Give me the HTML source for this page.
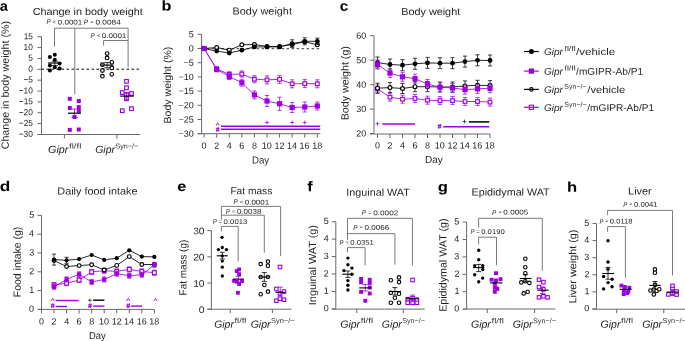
<!DOCTYPE html>
<html><head><meta charset="utf-8"><style>
html,body{margin:0;padding:0;background:#fff;}
svg{display:block;will-change:transform;}
text{font-family:"Liberation Sans",sans-serif;}
</style></head><body>
<svg xmlns="http://www.w3.org/2000/svg" width="685" height="341" viewBox="0 0 685 341">
<rect width="685" height="341" fill="#fff"/>
<text x="-0.24" y="10.80" transform="rotate(0.03 -0.24 10.80)" font-size="14" font-weight="bold" fill="#000" textLength="8.11" lengthAdjust="spacingAndGlyphs" >a</text>
<text x="161.64" y="10.60" transform="rotate(0.03 161.64 10.60)" font-size="14" font-weight="bold" fill="#000" textLength="9.92" lengthAdjust="spacingAndGlyphs" >b</text>
<text x="339.68" y="10.80" transform="rotate(0.03 339.68 10.80)" font-size="14" font-weight="bold" fill="#000" textLength="8.60" lengthAdjust="spacingAndGlyphs" >c</text>
<text x="-0.39" y="191.00" transform="rotate(0.03 -0.39 191.00)" font-size="14" font-weight="bold" fill="#000" textLength="10.52" lengthAdjust="spacingAndGlyphs" >d</text>
<text x="177.25" y="191.10" transform="rotate(0.03 177.25 191.10)" font-size="14" font-weight="bold" fill="#000" textLength="9.04" lengthAdjust="spacingAndGlyphs" >e</text>
<text x="307.26" y="191.20" transform="rotate(0.03 307.26 191.20)" font-size="14" font-weight="bold" fill="#000" textLength="5.41" lengthAdjust="spacingAndGlyphs" >f</text>
<text x="437.73" y="191.40" transform="rotate(0.03 437.73 191.40)" font-size="14" font-weight="bold" fill="#000" textLength="10.16" lengthAdjust="spacingAndGlyphs" >g</text>
<text x="567.03" y="191.70" transform="rotate(0.03 567.03 191.70)" font-size="14" font-weight="bold" fill="#000" textLength="10.18" lengthAdjust="spacingAndGlyphs" >h</text>
<text x="32.66" y="14.90" transform="rotate(0.03 32.66 14.90)" font-size="10.2" fill="#1e1e1e" textLength="110.04" lengthAdjust="spacingAndGlyphs" >Change in body weight</text>
<text x="46.41" y="24.50" transform="rotate(0.03 46.41 24.50)" font-size="6.9" font-style="italic" fill="#1e1e1e" textLength="4.20" lengthAdjust="spacingAndGlyphs" >P</text>
<text x="52.59" y="24.10" transform="rotate(0.03 52.59 24.10)" font-size="5.5200000000000005" fill="#1e1e1e" textLength="3.58" lengthAdjust="spacingAndGlyphs" >&lt;</text>
<text x="57.68" y="24.50" transform="rotate(0.03 57.68 24.50)" font-size="6.9" fill="#1e1e1e" textLength="24.68" lengthAdjust="spacingAndGlyphs" >0.0001</text>
<text x="83.80" y="24.50" transform="rotate(0.03 83.80 24.50)" font-size="6.9" font-style="italic" fill="#1e1e1e" textLength="4.34" lengthAdjust="spacingAndGlyphs" >P</text>
<text x="90.37" y="23.60" transform="rotate(0.03 90.37 23.60)" font-size="5.175000000000001" fill="#1e1e1e" textLength="3.35" lengthAdjust="spacingAndGlyphs" >=</text>
<text x="95.45" y="24.50" transform="rotate(0.03 95.45 24.50)" font-size="6.9" fill="#1e1e1e" textLength="25.38" lengthAdjust="spacingAndGlyphs" >0.0084</text>
<text x="90.51" y="37.90" transform="rotate(0.03 90.51 37.90)" font-size="6.9" font-style="italic" fill="#1e1e1e" textLength="4.19" lengthAdjust="spacingAndGlyphs" >P</text>
<text x="96.68" y="37.50" transform="rotate(0.03 96.68 37.50)" font-size="5.5200000000000005" fill="#1e1e1e" textLength="3.57" lengthAdjust="spacingAndGlyphs" >&lt;</text>
<text x="101.74" y="37.90" transform="rotate(0.03 101.74 37.90)" font-size="6.9" fill="#1e1e1e" textLength="24.61" lengthAdjust="spacingAndGlyphs" >0.0001</text>
<text transform="translate(8.70,149.33) rotate(-89.97)" x="0" y="0" font-size="10.4" fill="#1e1e1e" textLength="128.40" lengthAdjust="spacingAndGlyphs">Change in body weight (%)</text>
<line x1="41.50" y1="36.70" x2="41.50" y2="134.49" stroke="#686868" stroke-width="1" />
<line x1="37.50" y1="36.70" x2="41.50" y2="36.70" stroke="#686868" stroke-width="1" />
<text x="23.65" y="39.16" transform="rotate(0.03 23.65 39.16)" font-size="8.8" fill="#1e1e1e" textLength="9.30" lengthAdjust="spacingAndGlyphs">15</text>
<line x1="37.50" y1="47.57" x2="41.50" y2="47.57" stroke="#686868" stroke-width="1" />
<text x="23.61" y="50.02" transform="rotate(0.03 23.61 50.02)" font-size="8.8" fill="#1e1e1e" textLength="9.30" lengthAdjust="spacingAndGlyphs">10</text>
<line x1="37.50" y1="58.43" x2="41.50" y2="58.43" stroke="#686868" stroke-width="1" />
<text x="28.29" y="60.89" transform="rotate(0.03 28.29 60.89)" font-size="8.8" fill="#1e1e1e" textLength="4.65" lengthAdjust="spacingAndGlyphs">5</text>
<line x1="37.50" y1="69.30" x2="41.50" y2="69.30" stroke="#686868" stroke-width="1" />
<text x="28.25" y="71.75" transform="rotate(0.03 28.25 71.75)" font-size="8.8" fill="#1e1e1e" textLength="4.65" lengthAdjust="spacingAndGlyphs">0</text>
<line x1="37.50" y1="80.16" x2="41.50" y2="80.16" stroke="#686868" stroke-width="1" />
<text x="23.40" y="82.62" transform="rotate(0.03 23.40 82.62)" font-size="8.8" fill="#1e1e1e" textLength="9.53" lengthAdjust="spacingAndGlyphs">−5</text>
<line x1="37.50" y1="91.03" x2="41.50" y2="91.03" stroke="#686868" stroke-width="1" />
<text x="18.72" y="93.48" transform="rotate(0.03 18.72 93.48)" font-size="8.8" fill="#1e1e1e" textLength="14.18" lengthAdjust="spacingAndGlyphs">−10</text>
<line x1="37.50" y1="101.89" x2="41.50" y2="101.89" stroke="#686868" stroke-width="1" />
<text x="18.76" y="104.35" transform="rotate(0.03 18.76 104.35)" font-size="8.8" fill="#1e1e1e" textLength="14.18" lengthAdjust="spacingAndGlyphs">−15</text>
<line x1="37.50" y1="112.76" x2="41.50" y2="112.76" stroke="#686868" stroke-width="1" />
<text x="18.72" y="115.21" transform="rotate(0.03 18.72 115.21)" font-size="8.8" fill="#1e1e1e" textLength="14.18" lengthAdjust="spacingAndGlyphs">−20</text>
<line x1="37.50" y1="123.62" x2="41.50" y2="123.62" stroke="#686868" stroke-width="1" />
<text x="18.76" y="126.08" transform="rotate(0.03 18.76 126.08)" font-size="8.8" fill="#1e1e1e" textLength="14.18" lengthAdjust="spacingAndGlyphs">−25</text>
<line x1="37.50" y1="134.49" x2="41.50" y2="134.49" stroke="#686868" stroke-width="1" />
<text x="18.72" y="136.94" transform="rotate(0.03 18.72 136.94)" font-size="8.8" fill="#1e1e1e" textLength="14.18" lengthAdjust="spacingAndGlyphs">−30</text>
<line x1="37.50" y1="134.50" x2="140.20" y2="134.50" stroke="#686868" stroke-width="1" />
<line x1="64.40" y1="134.50" x2="64.40" y2="138.50" stroke="#686868" stroke-width="1" />
<line x1="116.90" y1="134.50" x2="116.90" y2="138.50" stroke="#686868" stroke-width="1" />
<line x1="54.50" y1="28.20" x2="128.10" y2="28.20" stroke="#7a7a7a" stroke-width="1" />
<line x1="54.50" y1="28.20" x2="54.50" y2="46.70" stroke="#7a7a7a" stroke-width="1" />
<line x1="74.80" y1="28.20" x2="74.80" y2="94.00" stroke="#7a7a7a" stroke-width="1" />
<line x1="128.10" y1="28.20" x2="128.10" y2="67.30" stroke="#7a7a7a" stroke-width="1" />
<line x1="103.60" y1="40.50" x2="128.10" y2="40.50" stroke="#7a7a7a" stroke-width="1" />
<line x1="103.60" y1="40.50" x2="103.60" y2="45.50" stroke="#7a7a7a" stroke-width="1" />
<line x1="41.50" y1="69.20" x2="139.00" y2="69.20" stroke="#000" stroke-width="1" stroke-dasharray="2.5,2.5"/>
<text x="48.06" y="153.10" transform="rotate(0.03 48.06 153.10)" font-size="10.5" font-style="italic" fill="#1e1e1e" textLength="20.31" lengthAdjust="spacingAndGlyphs" >Gipr</text>
<text x="68.95" y="148.50" transform="rotate(0.03 68.95 148.50)" font-size="7.2" fill="#333" textLength="12.51" lengthAdjust="spacingAndGlyphs" >fl/fl</text>
<text x="95.18" y="153.10" transform="rotate(0.03 95.18 153.10)" font-size="10.5" font-style="italic" fill="#1e1e1e" textLength="19.80" lengthAdjust="spacingAndGlyphs" >Gipr</text>
<text x="115.38" y="148.50" transform="rotate(0.03 115.38 148.50)" font-size="7.2" fill="#333" textLength="22.78" lengthAdjust="spacingAndGlyphs" >Syn−/−</text>
<circle cx="54.80" cy="54.80" r="2.00" fill="#000"/>
<circle cx="49.90" cy="57.00" r="2.00" fill="#000"/>
<circle cx="54.80" cy="59.70" r="2.00" fill="#000"/>
<circle cx="59.60" cy="63.60" r="2.00" fill="#000"/>
<circle cx="49.90" cy="65.40" r="2.00" fill="#000"/>
<circle cx="54.80" cy="67.20" r="2.00" fill="#000"/>
<circle cx="59.60" cy="68.40" r="2.00" fill="#000"/>
<circle cx="49.90" cy="70.40" r="2.00" fill="#000"/>
<line x1="54.80" y1="61.20" x2="54.80" y2="65.60" stroke="#000" stroke-width="0.8" />
<line x1="51.80" y1="61.20" x2="57.80" y2="61.20" stroke="#000" stroke-width="0.8" />
<line x1="51.80" y1="65.60" x2="57.80" y2="65.60" stroke="#000" stroke-width="0.8" />
<line x1="48.00" y1="63.00" x2="61.30" y2="63.00" stroke="#000" stroke-width="1.2" />
<rect x="67.80" y="96.80" width="4.00" height="4.00" fill="#9e00e6"/>
<rect x="76.80" y="99.00" width="4.00" height="4.00" fill="#9e00e6"/>
<rect x="67.80" y="106.00" width="4.00" height="4.00" fill="#9e00e6"/>
<rect x="76.80" y="105.10" width="4.00" height="4.00" fill="#9e00e6"/>
<rect x="76.80" y="108.80" width="4.00" height="4.00" fill="#9e00e6"/>
<rect x="72.50" y="115.00" width="4.00" height="4.00" fill="#9e00e6"/>
<rect x="67.80" y="127.90" width="4.00" height="4.00" fill="#9e00e6"/>
<rect x="76.80" y="127.50" width="4.00" height="4.00" fill="#9e00e6"/>
<line x1="74.50" y1="109.00" x2="74.50" y2="117.50" stroke="#9e00e6" stroke-width="0.8" />
<line x1="71.50" y1="109.00" x2="77.50" y2="109.00" stroke="#9e00e6" stroke-width="0.8" />
<line x1="71.50" y1="117.50" x2="77.50" y2="117.50" stroke="#9e00e6" stroke-width="0.8" />
<line x1="68.00" y1="113.20" x2="80.90" y2="113.20" stroke="#000" stroke-width="1.2" />
<circle cx="107.10" cy="53.60" r="1.82" fill="#fff" stroke="#000" stroke-width="1.15"/>
<circle cx="107.10" cy="57.90" r="1.82" fill="#fff" stroke="#000" stroke-width="1.15"/>
<circle cx="111.80" cy="62.30" r="1.82" fill="#fff" stroke="#000" stroke-width="1.15"/>
<circle cx="102.40" cy="64.70" r="1.82" fill="#fff" stroke="#000" stroke-width="1.15"/>
<circle cx="111.80" cy="67.90" r="1.82" fill="#fff" stroke="#000" stroke-width="1.15"/>
<circle cx="102.40" cy="70.50" r="1.82" fill="#fff" stroke="#000" stroke-width="1.15"/>
<circle cx="111.80" cy="74.30" r="1.82" fill="#fff" stroke="#000" stroke-width="1.15"/>
<circle cx="102.40" cy="76.20" r="1.82" fill="#fff" stroke="#000" stroke-width="1.15"/>
<line x1="107.10" y1="62.60" x2="107.10" y2="67.80" stroke="#000" stroke-width="0.8" />
<line x1="104.10" y1="62.60" x2="110.10" y2="62.60" stroke="#000" stroke-width="0.8" />
<line x1="104.10" y1="67.80" x2="110.10" y2="67.80" stroke="#000" stroke-width="0.8" />
<line x1="100.70" y1="65.10" x2="113.40" y2="65.10" stroke="#000" stroke-width="1.2" />
<rect x="124.67" y="79.47" width="3.65" height="3.65" fill="#fff" stroke="#9e00e6" stroke-width="1.15"/>
<rect x="124.67" y="85.97" width="3.65" height="3.65" fill="#fff" stroke="#9e00e6" stroke-width="1.15"/>
<rect x="120.47" y="90.77" width="3.65" height="3.65" fill="#fff" stroke="#9e00e6" stroke-width="1.15"/>
<rect x="129.67" y="91.67" width="3.65" height="3.65" fill="#fff" stroke="#9e00e6" stroke-width="1.15"/>
<rect x="124.67" y="92.77" width="3.65" height="3.65" fill="#fff" stroke="#9e00e6" stroke-width="1.15"/>
<rect x="124.67" y="96.97" width="3.65" height="3.65" fill="#fff" stroke="#9e00e6" stroke-width="1.15"/>
<rect x="120.47" y="108.88" width="3.65" height="3.65" fill="#fff" stroke="#9e00e6" stroke-width="1.15"/>
<rect x="129.67" y="106.88" width="3.65" height="3.65" fill="#fff" stroke="#9e00e6" stroke-width="1.15"/>
<line x1="126.50" y1="92.80" x2="126.50" y2="99.50" stroke="#9e00e6" stroke-width="0.8" />
<line x1="124.00" y1="92.80" x2="129.00" y2="92.80" stroke="#9e00e6" stroke-width="0.8" />
<line x1="124.00" y1="99.50" x2="129.00" y2="99.50" stroke="#9e00e6" stroke-width="0.8" />
<line x1="120.30" y1="96.10" x2="133.80" y2="96.10" stroke="#000" stroke-width="1.2" />
<text x="232.53" y="14.60" transform="rotate(0.03 232.53 14.60)" font-size="10.2" fill="#1e1e1e" textLength="59.46" lengthAdjust="spacingAndGlyphs" >Body weight</text>
<text transform="translate(171.00,123.44) rotate(-89.97)" x="0" y="0" font-size="10.4" fill="#1e1e1e" textLength="76.79" lengthAdjust="spacingAndGlyphs">Body weight (%)</text>
<line x1="201.60" y1="34.30" x2="201.60" y2="133.70" stroke="#686868" stroke-width="1" />
<line x1="197.60" y1="34.30" x2="201.60" y2="34.30" stroke="#686868" stroke-width="1" />
<text x="188.76" y="37.32" transform="rotate(0.03 188.76 37.32)" font-size="9.0" fill="#1e1e1e" textLength="5.01" lengthAdjust="spacingAndGlyphs">5</text>
<line x1="197.60" y1="48.50" x2="201.60" y2="48.50" stroke="#686868" stroke-width="1" />
<text x="188.72" y="51.52" transform="rotate(0.03 188.72 51.52)" font-size="9.0" fill="#1e1e1e" textLength="5.01" lengthAdjust="spacingAndGlyphs">0</text>
<line x1="197.60" y1="62.70" x2="201.60" y2="62.70" stroke="#686868" stroke-width="1" />
<text x="183.50" y="65.72" transform="rotate(0.03 183.50 65.72)" font-size="9.0" fill="#1e1e1e" textLength="10.26" lengthAdjust="spacingAndGlyphs">−5</text>
<line x1="197.60" y1="76.90" x2="201.60" y2="76.90" stroke="#686868" stroke-width="1" />
<text x="178.46" y="79.92" transform="rotate(0.03 178.46 79.92)" font-size="9.0" fill="#1e1e1e" textLength="15.27" lengthAdjust="spacingAndGlyphs">−10</text>
<line x1="197.60" y1="91.10" x2="201.60" y2="91.10" stroke="#686868" stroke-width="1" />
<text x="178.51" y="94.12" transform="rotate(0.03 178.51 94.12)" font-size="9.0" fill="#1e1e1e" textLength="15.27" lengthAdjust="spacingAndGlyphs">−15</text>
<line x1="197.60" y1="105.30" x2="201.60" y2="105.30" stroke="#686868" stroke-width="1" />
<text x="178.46" y="108.32" transform="rotate(0.03 178.46 108.32)" font-size="9.0" fill="#1e1e1e" textLength="15.27" lengthAdjust="spacingAndGlyphs">−20</text>
<line x1="197.60" y1="119.50" x2="201.60" y2="119.50" stroke="#686868" stroke-width="1" />
<text x="178.51" y="122.52" transform="rotate(0.03 178.51 122.52)" font-size="9.0" fill="#1e1e1e" textLength="15.27" lengthAdjust="spacingAndGlyphs">−25</text>
<line x1="197.60" y1="133.70" x2="201.60" y2="133.70" stroke="#686868" stroke-width="1" />
<text x="178.46" y="136.72" transform="rotate(0.03 178.46 136.72)" font-size="9.0" fill="#1e1e1e" textLength="15.27" lengthAdjust="spacingAndGlyphs">−30</text>
<line x1="197.60" y1="133.70" x2="320.30" y2="133.70" stroke="#686868" stroke-width="1" />
<line x1="204.10" y1="133.70" x2="204.10" y2="137.70" stroke="#686868" stroke-width="1" />
<text x="201.58" y="148.82" transform="rotate(0.03 201.58 148.82)" font-size="9.0" fill="#1e1e1e" textLength="5.01" lengthAdjust="spacingAndGlyphs">0</text>
<line x1="216.68" y1="133.70" x2="216.68" y2="137.70" stroke="#686868" stroke-width="1" />
<text x="214.18" y="148.82" transform="rotate(0.03 214.18 148.82)" font-size="9.0" fill="#1e1e1e" textLength="5.01" lengthAdjust="spacingAndGlyphs">2</text>
<line x1="229.26" y1="133.70" x2="229.26" y2="137.70" stroke="#686868" stroke-width="1" />
<text x="226.81" y="148.82" transform="rotate(0.03 226.81 148.82)" font-size="9.0" fill="#1e1e1e" textLength="5.01" lengthAdjust="spacingAndGlyphs">4</text>
<line x1="241.84" y1="133.70" x2="241.84" y2="137.70" stroke="#686868" stroke-width="1" />
<text x="239.30" y="148.82" transform="rotate(0.03 239.30 148.82)" font-size="9.0" fill="#1e1e1e" textLength="5.01" lengthAdjust="spacingAndGlyphs">6</text>
<line x1="254.42" y1="133.70" x2="254.42" y2="137.70" stroke="#686868" stroke-width="1" />
<text x="251.90" y="148.82" transform="rotate(0.03 251.90 148.82)" font-size="9.0" fill="#1e1e1e" textLength="5.01" lengthAdjust="spacingAndGlyphs">8</text>
<line x1="267.00" y1="133.70" x2="267.00" y2="137.70" stroke="#686868" stroke-width="1" />
<text x="261.82" y="148.82" transform="rotate(0.03 261.82 148.82)" font-size="9.0" fill="#1e1e1e" textLength="10.01" lengthAdjust="spacingAndGlyphs">10</text>
<line x1="279.58" y1="133.70" x2="279.58" y2="137.70" stroke="#686868" stroke-width="1" />
<text x="274.47" y="148.82" transform="rotate(0.03 274.47 148.82)" font-size="9.0" fill="#1e1e1e" textLength="10.01" lengthAdjust="spacingAndGlyphs">12</text>
<line x1="292.16" y1="133.70" x2="292.16" y2="137.70" stroke="#686868" stroke-width="1" />
<text x="286.96" y="148.82" transform="rotate(0.03 286.96 148.82)" font-size="9.0" fill="#1e1e1e" textLength="10.01" lengthAdjust="spacingAndGlyphs">14</text>
<line x1="304.74" y1="133.70" x2="304.74" y2="137.70" stroke="#686868" stroke-width="1" />
<text x="299.59" y="148.82" transform="rotate(0.03 299.59 148.82)" font-size="9.0" fill="#1e1e1e" textLength="10.01" lengthAdjust="spacingAndGlyphs">16</text>
<line x1="317.32" y1="133.70" x2="317.32" y2="137.70" stroke="#686868" stroke-width="1" />
<text x="312.17" y="148.82" transform="rotate(0.03 312.17 148.82)" font-size="9.0" fill="#1e1e1e" textLength="10.01" lengthAdjust="spacingAndGlyphs">18</text>
<text x="251.93" y="163.60" transform="rotate(0.03 251.93 163.60)" font-size="10.2" fill="#1e1e1e" textLength="17.16" lengthAdjust="spacingAndGlyphs" >Day</text>
<line x1="201.60" y1="48.70" x2="320.30" y2="48.70" stroke="#222" stroke-width="0.9" stroke-dasharray="2.5,2.5"/>
<line x1="216.68" y1="67.00" x2="216.68" y2="71.00" stroke="#9e00e6" stroke-width="0.75" />
<line x1="214.58" y1="67.00" x2="218.78" y2="67.00" stroke="#9e00e6" stroke-width="0.75" />
<line x1="214.58" y1="71.00" x2="218.78" y2="71.00" stroke="#9e00e6" stroke-width="0.75" />
<line x1="229.26" y1="71.80" x2="229.26" y2="76.80" stroke="#9e00e6" stroke-width="0.75" />
<line x1="227.16" y1="71.80" x2="231.36" y2="71.80" stroke="#9e00e6" stroke-width="0.75" />
<line x1="227.16" y1="76.80" x2="231.36" y2="76.80" stroke="#9e00e6" stroke-width="0.75" />
<line x1="241.84" y1="71.00" x2="241.84" y2="77.00" stroke="#9e00e6" stroke-width="0.75" />
<line x1="239.74" y1="71.00" x2="243.94" y2="71.00" stroke="#9e00e6" stroke-width="0.75" />
<line x1="239.74" y1="77.00" x2="243.94" y2="77.00" stroke="#9e00e6" stroke-width="0.75" />
<line x1="254.42" y1="75.70" x2="254.42" y2="82.70" stroke="#9e00e6" stroke-width="0.75" />
<line x1="252.32" y1="75.70" x2="256.52" y2="75.70" stroke="#9e00e6" stroke-width="0.75" />
<line x1="252.32" y1="82.70" x2="256.52" y2="82.70" stroke="#9e00e6" stroke-width="0.75" />
<line x1="267.00" y1="75.90" x2="267.00" y2="83.90" stroke="#9e00e6" stroke-width="0.75" />
<line x1="264.90" y1="75.90" x2="269.10" y2="75.90" stroke="#9e00e6" stroke-width="0.75" />
<line x1="264.90" y1="83.90" x2="269.10" y2="83.90" stroke="#9e00e6" stroke-width="0.75" />
<line x1="279.58" y1="75.30" x2="279.58" y2="83.30" stroke="#9e00e6" stroke-width="0.75" />
<line x1="277.48" y1="75.30" x2="281.68" y2="75.30" stroke="#9e00e6" stroke-width="0.75" />
<line x1="277.48" y1="83.30" x2="281.68" y2="83.30" stroke="#9e00e6" stroke-width="0.75" />
<line x1="292.16" y1="79.80" x2="292.16" y2="87.80" stroke="#9e00e6" stroke-width="0.75" />
<line x1="290.06" y1="79.80" x2="294.26" y2="79.80" stroke="#9e00e6" stroke-width="0.75" />
<line x1="290.06" y1="87.80" x2="294.26" y2="87.80" stroke="#9e00e6" stroke-width="0.75" />
<line x1="304.74" y1="79.60" x2="304.74" y2="87.60" stroke="#9e00e6" stroke-width="0.75" />
<line x1="302.64" y1="79.60" x2="306.84" y2="79.60" stroke="#9e00e6" stroke-width="0.75" />
<line x1="302.64" y1="87.60" x2="306.84" y2="87.60" stroke="#9e00e6" stroke-width="0.75" />
<line x1="317.32" y1="79.80" x2="317.32" y2="87.80" stroke="#9e00e6" stroke-width="0.75" />
<line x1="315.22" y1="79.80" x2="319.42" y2="79.80" stroke="#9e00e6" stroke-width="0.75" />
<line x1="315.22" y1="87.80" x2="319.42" y2="87.80" stroke="#9e00e6" stroke-width="0.75" />
<polyline points="204.10,48.50 216.68,69.00 229.26,74.30 241.84,74.00 254.42,79.20 267.00,79.90 279.58,79.30 292.16,83.80 304.74,83.60 317.32,83.80" fill="none" stroke="#9e00e6" stroke-width="0.85"/>
<rect x="202.27" y="46.68" width="3.65" height="3.65" fill="#fff" stroke="#9e00e6" stroke-width="1.15"/>
<rect x="214.85" y="67.17" width="3.65" height="3.65" fill="#fff" stroke="#9e00e6" stroke-width="1.15"/>
<rect x="227.43" y="72.47" width="3.65" height="3.65" fill="#fff" stroke="#9e00e6" stroke-width="1.15"/>
<rect x="240.01" y="72.17" width="3.65" height="3.65" fill="#fff" stroke="#9e00e6" stroke-width="1.15"/>
<rect x="252.59" y="77.38" width="3.65" height="3.65" fill="#fff" stroke="#9e00e6" stroke-width="1.15"/>
<rect x="265.18" y="78.08" width="3.65" height="3.65" fill="#fff" stroke="#9e00e6" stroke-width="1.15"/>
<rect x="277.75" y="77.47" width="3.65" height="3.65" fill="#fff" stroke="#9e00e6" stroke-width="1.15"/>
<rect x="290.33" y="81.97" width="3.65" height="3.65" fill="#fff" stroke="#9e00e6" stroke-width="1.15"/>
<rect x="302.92" y="81.77" width="3.65" height="3.65" fill="#fff" stroke="#9e00e6" stroke-width="1.15"/>
<rect x="315.50" y="81.97" width="3.65" height="3.65" fill="#fff" stroke="#9e00e6" stroke-width="1.15"/>
<polyline points="204.10,48.50 216.68,47.50 229.26,50.20 241.84,44.80 254.42,44.50 267.00,46.50 279.58,46.50 292.16,44.50 304.74,41.80 317.32,44.80" fill="none" stroke="#000" stroke-width="0.85"/>
<circle cx="204.10" cy="48.50" r="1.93" fill="#fff" stroke="#000" stroke-width="1.15"/>
<circle cx="216.68" cy="47.50" r="1.93" fill="#fff" stroke="#000" stroke-width="1.15"/>
<circle cx="229.26" cy="50.20" r="1.93" fill="#fff" stroke="#000" stroke-width="1.15"/>
<circle cx="241.84" cy="44.80" r="1.93" fill="#fff" stroke="#000" stroke-width="1.15"/>
<circle cx="254.42" cy="44.50" r="1.93" fill="#fff" stroke="#000" stroke-width="1.15"/>
<circle cx="267.00" cy="46.50" r="1.93" fill="#fff" stroke="#000" stroke-width="1.15"/>
<circle cx="279.58" cy="46.50" r="1.93" fill="#fff" stroke="#000" stroke-width="1.15"/>
<circle cx="292.16" cy="44.50" r="1.93" fill="#fff" stroke="#000" stroke-width="1.15"/>
<circle cx="304.74" cy="41.80" r="1.93" fill="#fff" stroke="#000" stroke-width="1.15"/>
<circle cx="317.32" cy="44.80" r="1.93" fill="#fff" stroke="#000" stroke-width="1.15"/>
<line x1="292.16" y1="39.80" x2="292.16" y2="47.40" stroke="#000" stroke-width="0.75" />
<line x1="290.06" y1="39.80" x2="294.26" y2="39.80" stroke="#000" stroke-width="0.75" />
<line x1="290.06" y1="47.40" x2="294.26" y2="47.40" stroke="#000" stroke-width="0.75" />
<line x1="304.74" y1="37.80" x2="304.74" y2="44.80" stroke="#000" stroke-width="0.75" />
<line x1="302.64" y1="37.80" x2="306.84" y2="37.80" stroke="#000" stroke-width="0.75" />
<line x1="302.64" y1="44.80" x2="306.84" y2="44.80" stroke="#000" stroke-width="0.75" />
<line x1="317.32" y1="38.10" x2="317.32" y2="44.50" stroke="#000" stroke-width="0.75" />
<line x1="315.22" y1="38.10" x2="319.42" y2="38.10" stroke="#000" stroke-width="0.75" />
<line x1="315.22" y1="44.50" x2="319.42" y2="44.50" stroke="#000" stroke-width="0.75" />
<polyline points="204.10,48.50 216.68,51.10 229.26,53.00 241.84,50.20 254.42,46.90 267.00,46.90 279.58,46.90 292.16,43.60 304.74,41.30 317.32,41.30" fill="none" stroke="#000" stroke-width="0.85"/>
<circle cx="204.10" cy="48.50" r="2.40" fill="#000"/>
<circle cx="216.68" cy="51.10" r="2.40" fill="#000"/>
<circle cx="229.26" cy="53.00" r="2.40" fill="#000"/>
<circle cx="241.84" cy="50.20" r="2.40" fill="#000"/>
<circle cx="254.42" cy="46.90" r="2.40" fill="#000"/>
<circle cx="267.00" cy="46.90" r="2.40" fill="#000"/>
<circle cx="279.58" cy="46.90" r="2.40" fill="#000"/>
<circle cx="292.16" cy="43.60" r="2.40" fill="#000"/>
<circle cx="304.74" cy="41.30" r="2.40" fill="#000"/>
<circle cx="317.32" cy="41.30" r="2.40" fill="#000"/>
<line x1="216.68" y1="66.90" x2="216.68" y2="71.90" stroke="#9e00e6" stroke-width="0.75" />
<line x1="214.58" y1="66.90" x2="218.78" y2="66.90" stroke="#9e00e6" stroke-width="0.75" />
<line x1="214.58" y1="71.90" x2="218.78" y2="71.90" stroke="#9e00e6" stroke-width="0.75" />
<line x1="229.26" y1="73.50" x2="229.26" y2="79.50" stroke="#9e00e6" stroke-width="0.75" />
<line x1="227.16" y1="73.50" x2="231.36" y2="73.50" stroke="#9e00e6" stroke-width="0.75" />
<line x1="227.16" y1="79.50" x2="231.36" y2="79.50" stroke="#9e00e6" stroke-width="0.75" />
<line x1="241.84" y1="79.20" x2="241.84" y2="86.20" stroke="#9e00e6" stroke-width="0.75" />
<line x1="239.74" y1="79.20" x2="243.94" y2="79.20" stroke="#9e00e6" stroke-width="0.75" />
<line x1="239.74" y1="86.20" x2="243.94" y2="86.20" stroke="#9e00e6" stroke-width="0.75" />
<line x1="254.42" y1="90.90" x2="254.42" y2="98.90" stroke="#9e00e6" stroke-width="0.75" />
<line x1="252.32" y1="90.90" x2="256.52" y2="90.90" stroke="#9e00e6" stroke-width="0.75" />
<line x1="252.32" y1="98.90" x2="256.52" y2="98.90" stroke="#9e00e6" stroke-width="0.75" />
<line x1="267.00" y1="95.50" x2="267.00" y2="106.50" stroke="#9e00e6" stroke-width="0.75" />
<line x1="264.90" y1="95.50" x2="269.10" y2="95.50" stroke="#9e00e6" stroke-width="0.75" />
<line x1="264.90" y1="106.50" x2="269.10" y2="106.50" stroke="#9e00e6" stroke-width="0.75" />
<line x1="279.58" y1="97.30" x2="279.58" y2="110.30" stroke="#9e00e6" stroke-width="0.75" />
<line x1="277.48" y1="97.30" x2="281.68" y2="97.30" stroke="#9e00e6" stroke-width="0.75" />
<line x1="277.48" y1="110.30" x2="281.68" y2="110.30" stroke="#9e00e6" stroke-width="0.75" />
<line x1="292.16" y1="102.50" x2="292.16" y2="112.50" stroke="#9e00e6" stroke-width="0.75" />
<line x1="290.06" y1="102.50" x2="294.26" y2="102.50" stroke="#9e00e6" stroke-width="0.75" />
<line x1="290.06" y1="112.50" x2="294.26" y2="112.50" stroke="#9e00e6" stroke-width="0.75" />
<line x1="304.74" y1="102.00" x2="304.74" y2="112.00" stroke="#9e00e6" stroke-width="0.75" />
<line x1="302.64" y1="102.00" x2="306.84" y2="102.00" stroke="#9e00e6" stroke-width="0.75" />
<line x1="302.64" y1="112.00" x2="306.84" y2="112.00" stroke="#9e00e6" stroke-width="0.75" />
<line x1="317.32" y1="102.00" x2="317.32" y2="110.00" stroke="#9e00e6" stroke-width="0.75" />
<line x1="315.22" y1="102.00" x2="319.42" y2="102.00" stroke="#9e00e6" stroke-width="0.75" />
<line x1="315.22" y1="110.00" x2="319.42" y2="110.00" stroke="#9e00e6" stroke-width="0.75" />
<polyline points="204.10,48.50 216.68,69.40 229.26,76.50 241.84,82.70 254.42,94.90 267.00,101.00 279.58,103.80 292.16,107.50 304.74,107.00 317.32,106.00" fill="none" stroke="#9e00e6" stroke-width="0.85"/>
<rect x="201.50" y="45.90" width="5.20" height="5.20" fill="#9e00e6"/>
<rect x="214.08" y="66.80" width="5.20" height="5.20" fill="#9e00e6"/>
<rect x="226.66" y="73.90" width="5.20" height="5.20" fill="#9e00e6"/>
<rect x="239.24" y="80.10" width="5.20" height="5.20" fill="#9e00e6"/>
<rect x="251.82" y="92.30" width="5.20" height="5.20" fill="#9e00e6"/>
<rect x="264.40" y="98.40" width="5.20" height="5.20" fill="#9e00e6"/>
<rect x="276.98" y="101.20" width="5.20" height="5.20" fill="#9e00e6"/>
<rect x="289.56" y="104.90" width="5.20" height="5.20" fill="#9e00e6"/>
<rect x="302.14" y="104.40" width="5.20" height="5.20" fill="#9e00e6"/>
<rect x="314.72" y="103.40" width="5.20" height="5.20" fill="#9e00e6"/>
<polyline points="216.10,125.50 217.70,122.90 219.30,125.50" fill="none" stroke="#9e00e6" stroke-width="0.9"/>
<line x1="217.30" y1="127.20" x2="216.60" y2="131.80" stroke="#9e00e6" stroke-width="0.9" />
<line x1="218.80" y1="127.20" x2="218.10" y2="131.80" stroke="#9e00e6" stroke-width="0.9" />
<line x1="215.90" y1="128.70" x2="219.50" y2="128.70" stroke="#9e00e6" stroke-width="0.9" />
<line x1="215.90" y1="130.30" x2="219.50" y2="130.30" stroke="#9e00e6" stroke-width="0.9" />
<line x1="221.00" y1="126.20" x2="320.30" y2="126.20" stroke="#9e00e6" stroke-width="1.4" />
<line x1="221.00" y1="129.20" x2="320.30" y2="129.20" stroke="#9e00e6" stroke-width="1.4" />
<line x1="265.10" y1="122.50" x2="268.90" y2="122.50" stroke="#9e00e6" stroke-width="0.8" />
<line x1="267.00" y1="120.60" x2="267.00" y2="124.40" stroke="#9e00e6" stroke-width="0.8" />
<line x1="290.26" y1="122.50" x2="294.06" y2="122.50" stroke="#9e00e6" stroke-width="0.8" />
<line x1="292.16" y1="120.60" x2="292.16" y2="124.40" stroke="#9e00e6" stroke-width="0.8" />
<line x1="302.84" y1="122.50" x2="306.64" y2="122.50" stroke="#9e00e6" stroke-width="0.8" />
<line x1="304.74" y1="120.60" x2="304.74" y2="124.40" stroke="#9e00e6" stroke-width="0.8" />
<text x="401.23" y="14.90" transform="rotate(0.03 401.23 14.90)" font-size="10.2" fill="#1e1e1e" textLength="58.95" lengthAdjust="spacingAndGlyphs" >Body weight</text>
<text transform="translate(348.50,120.25) rotate(-89.97)" x="0" y="0" font-size="10.4" fill="#1e1e1e" textLength="74.13" lengthAdjust="spacingAndGlyphs">Body weight (g)</text>
<line x1="374.00" y1="35.75" x2="374.00" y2="133.55" stroke="#686868" stroke-width="1" />
<line x1="370.00" y1="35.75" x2="374.00" y2="35.75" stroke="#686868" stroke-width="1" />
<text x="356.32" y="38.77" transform="rotate(0.03 356.32 38.77)" font-size="9.0" fill="#1e1e1e" textLength="10.01" lengthAdjust="spacingAndGlyphs">60</text>
<line x1="370.00" y1="60.20" x2="374.00" y2="60.20" stroke="#686868" stroke-width="1" />
<text x="356.32" y="63.22" transform="rotate(0.03 356.32 63.22)" font-size="9.0" fill="#1e1e1e" textLength="10.01" lengthAdjust="spacingAndGlyphs">50</text>
<line x1="370.00" y1="84.65" x2="374.00" y2="84.65" stroke="#686868" stroke-width="1" />
<text x="356.32" y="87.67" transform="rotate(0.03 356.32 87.67)" font-size="9.0" fill="#1e1e1e" textLength="10.01" lengthAdjust="spacingAndGlyphs">40</text>
<line x1="370.00" y1="109.10" x2="374.00" y2="109.10" stroke="#686868" stroke-width="1" />
<text x="356.32" y="112.12" transform="rotate(0.03 356.32 112.12)" font-size="9.0" fill="#1e1e1e" textLength="10.01" lengthAdjust="spacingAndGlyphs">30</text>
<line x1="370.00" y1="133.55" x2="374.00" y2="133.55" stroke="#686868" stroke-width="1" />
<text x="356.32" y="136.57" transform="rotate(0.03 356.32 136.57)" font-size="9.0" fill="#1e1e1e" textLength="10.01" lengthAdjust="spacingAndGlyphs">20</text>
<line x1="370.00" y1="134.00" x2="490.00" y2="134.00" stroke="#686868" stroke-width="1" />
<line x1="377.50" y1="134.00" x2="377.50" y2="138.00" stroke="#686868" stroke-width="1" />
<text x="374.98" y="148.62" transform="rotate(0.03 374.98 148.62)" font-size="9.0" fill="#1e1e1e" textLength="5.01" lengthAdjust="spacingAndGlyphs">0</text>
<line x1="390.00" y1="134.00" x2="390.00" y2="138.00" stroke="#686868" stroke-width="1" />
<text x="387.50" y="148.62" transform="rotate(0.03 387.50 148.62)" font-size="9.0" fill="#1e1e1e" textLength="5.01" lengthAdjust="spacingAndGlyphs">2</text>
<line x1="402.50" y1="134.00" x2="402.50" y2="138.00" stroke="#686868" stroke-width="1" />
<text x="400.05" y="148.62" transform="rotate(0.03 400.05 148.62)" font-size="9.0" fill="#1e1e1e" textLength="5.01" lengthAdjust="spacingAndGlyphs">4</text>
<line x1="415.00" y1="134.00" x2="415.00" y2="138.00" stroke="#686868" stroke-width="1" />
<text x="412.46" y="148.62" transform="rotate(0.03 412.46 148.62)" font-size="9.0" fill="#1e1e1e" textLength="5.01" lengthAdjust="spacingAndGlyphs">6</text>
<line x1="427.50" y1="134.00" x2="427.50" y2="138.00" stroke="#686868" stroke-width="1" />
<text x="424.98" y="148.62" transform="rotate(0.03 424.98 148.62)" font-size="9.0" fill="#1e1e1e" textLength="5.01" lengthAdjust="spacingAndGlyphs">8</text>
<line x1="440.00" y1="134.00" x2="440.00" y2="138.00" stroke="#686868" stroke-width="1" />
<text x="434.82" y="148.62" transform="rotate(0.03 434.82 148.62)" font-size="9.0" fill="#1e1e1e" textLength="10.01" lengthAdjust="spacingAndGlyphs">10</text>
<line x1="452.50" y1="134.00" x2="452.50" y2="138.00" stroke="#686868" stroke-width="1" />
<text x="447.39" y="148.62" transform="rotate(0.03 447.39 148.62)" font-size="9.0" fill="#1e1e1e" textLength="10.01" lengthAdjust="spacingAndGlyphs">12</text>
<line x1="465.00" y1="134.00" x2="465.00" y2="138.00" stroke="#686868" stroke-width="1" />
<text x="459.80" y="148.62" transform="rotate(0.03 459.80 148.62)" font-size="9.0" fill="#1e1e1e" textLength="10.01" lengthAdjust="spacingAndGlyphs">14</text>
<line x1="477.50" y1="134.00" x2="477.50" y2="138.00" stroke="#686868" stroke-width="1" />
<text x="472.35" y="148.62" transform="rotate(0.03 472.35 148.62)" font-size="9.0" fill="#1e1e1e" textLength="10.01" lengthAdjust="spacingAndGlyphs">16</text>
<line x1="490.00" y1="134.00" x2="490.00" y2="138.00" stroke="#686868" stroke-width="1" />
<text x="484.85" y="148.62" transform="rotate(0.03 484.85 148.62)" font-size="9.0" fill="#1e1e1e" textLength="10.01" lengthAdjust="spacingAndGlyphs">18</text>
<text x="425.00" y="163.10" transform="rotate(0.03 425.00 163.10)" font-size="10.2" fill="#1e1e1e" textLength="17.78" lengthAdjust="spacingAndGlyphs" >Day</text>
<line x1="377.50" y1="85.00" x2="377.50" y2="93.00" stroke="#9e00e6" stroke-width="0.75" />
<line x1="375.40" y1="85.00" x2="379.60" y2="85.00" stroke="#9e00e6" stroke-width="0.75" />
<line x1="375.40" y1="93.00" x2="379.60" y2="93.00" stroke="#9e00e6" stroke-width="0.75" />
<line x1="390.00" y1="93.10" x2="390.00" y2="101.10" stroke="#9e00e6" stroke-width="0.75" />
<line x1="387.90" y1="93.10" x2="392.10" y2="93.10" stroke="#9e00e6" stroke-width="0.75" />
<line x1="387.90" y1="101.10" x2="392.10" y2="101.10" stroke="#9e00e6" stroke-width="0.75" />
<line x1="402.50" y1="95.20" x2="402.50" y2="103.20" stroke="#9e00e6" stroke-width="0.75" />
<line x1="400.40" y1="95.20" x2="404.60" y2="95.20" stroke="#9e00e6" stroke-width="0.75" />
<line x1="400.40" y1="103.20" x2="404.60" y2="103.20" stroke="#9e00e6" stroke-width="0.75" />
<line x1="415.00" y1="94.50" x2="415.00" y2="102.50" stroke="#9e00e6" stroke-width="0.75" />
<line x1="412.90" y1="94.50" x2="417.10" y2="94.50" stroke="#9e00e6" stroke-width="0.75" />
<line x1="412.90" y1="102.50" x2="417.10" y2="102.50" stroke="#9e00e6" stroke-width="0.75" />
<line x1="427.50" y1="96.20" x2="427.50" y2="104.20" stroke="#9e00e6" stroke-width="0.75" />
<line x1="425.40" y1="96.20" x2="429.60" y2="96.20" stroke="#9e00e6" stroke-width="0.75" />
<line x1="425.40" y1="104.20" x2="429.60" y2="104.20" stroke="#9e00e6" stroke-width="0.75" />
<line x1="440.00" y1="96.60" x2="440.00" y2="104.60" stroke="#9e00e6" stroke-width="0.75" />
<line x1="437.90" y1="96.60" x2="442.10" y2="96.60" stroke="#9e00e6" stroke-width="0.75" />
<line x1="437.90" y1="104.60" x2="442.10" y2="104.60" stroke="#9e00e6" stroke-width="0.75" />
<line x1="452.50" y1="96.60" x2="452.50" y2="104.60" stroke="#9e00e6" stroke-width="0.75" />
<line x1="450.40" y1="96.60" x2="454.60" y2="96.60" stroke="#9e00e6" stroke-width="0.75" />
<line x1="450.40" y1="104.60" x2="454.60" y2="104.60" stroke="#9e00e6" stroke-width="0.75" />
<line x1="465.00" y1="97.50" x2="465.00" y2="105.50" stroke="#9e00e6" stroke-width="0.75" />
<line x1="462.90" y1="97.50" x2="467.10" y2="97.50" stroke="#9e00e6" stroke-width="0.75" />
<line x1="462.90" y1="105.50" x2="467.10" y2="105.50" stroke="#9e00e6" stroke-width="0.75" />
<line x1="477.50" y1="97.50" x2="477.50" y2="105.50" stroke="#9e00e6" stroke-width="0.75" />
<line x1="475.40" y1="97.50" x2="479.60" y2="97.50" stroke="#9e00e6" stroke-width="0.75" />
<line x1="475.40" y1="105.50" x2="479.60" y2="105.50" stroke="#9e00e6" stroke-width="0.75" />
<line x1="490.00" y1="98.10" x2="490.00" y2="106.10" stroke="#9e00e6" stroke-width="0.75" />
<line x1="487.90" y1="98.10" x2="492.10" y2="98.10" stroke="#9e00e6" stroke-width="0.75" />
<line x1="487.90" y1="106.10" x2="492.10" y2="106.10" stroke="#9e00e6" stroke-width="0.75" />
<polyline points="377.50,89.00 390.00,97.10 402.50,99.20 415.00,98.50 427.50,100.20 440.00,100.60 452.50,100.60 465.00,101.50 477.50,101.50 490.00,102.10" fill="none" stroke="#9e00e6" stroke-width="0.85"/>
<rect x="375.68" y="87.17" width="3.65" height="3.65" fill="#fff" stroke="#9e00e6" stroke-width="1.15"/>
<rect x="388.18" y="95.27" width="3.65" height="3.65" fill="#fff" stroke="#9e00e6" stroke-width="1.15"/>
<rect x="400.68" y="97.38" width="3.65" height="3.65" fill="#fff" stroke="#9e00e6" stroke-width="1.15"/>
<rect x="413.18" y="96.67" width="3.65" height="3.65" fill="#fff" stroke="#9e00e6" stroke-width="1.15"/>
<rect x="425.68" y="98.38" width="3.65" height="3.65" fill="#fff" stroke="#9e00e6" stroke-width="1.15"/>
<rect x="438.18" y="98.77" width="3.65" height="3.65" fill="#fff" stroke="#9e00e6" stroke-width="1.15"/>
<rect x="450.68" y="98.77" width="3.65" height="3.65" fill="#fff" stroke="#9e00e6" stroke-width="1.15"/>
<rect x="463.18" y="99.67" width="3.65" height="3.65" fill="#fff" stroke="#9e00e6" stroke-width="1.15"/>
<rect x="475.68" y="99.67" width="3.65" height="3.65" fill="#fff" stroke="#9e00e6" stroke-width="1.15"/>
<rect x="488.18" y="100.27" width="3.65" height="3.65" fill="#fff" stroke="#9e00e6" stroke-width="1.15"/>
<line x1="377.50" y1="83.20" x2="377.50" y2="93.20" stroke="#000" stroke-width="0.75" />
<line x1="375.40" y1="83.20" x2="379.60" y2="83.20" stroke="#000" stroke-width="0.75" />
<line x1="375.40" y1="93.20" x2="379.60" y2="93.20" stroke="#000" stroke-width="0.75" />
<line x1="390.00" y1="82.60" x2="390.00" y2="92.60" stroke="#000" stroke-width="0.75" />
<line x1="387.90" y1="82.60" x2="392.10" y2="82.60" stroke="#000" stroke-width="0.75" />
<line x1="387.90" y1="92.60" x2="392.10" y2="92.60" stroke="#000" stroke-width="0.75" />
<line x1="402.50" y1="83.50" x2="402.50" y2="93.50" stroke="#000" stroke-width="0.75" />
<line x1="400.40" y1="83.50" x2="404.60" y2="83.50" stroke="#000" stroke-width="0.75" />
<line x1="400.40" y1="93.50" x2="404.60" y2="93.50" stroke="#000" stroke-width="0.75" />
<line x1="415.00" y1="81.70" x2="415.00" y2="91.70" stroke="#000" stroke-width="0.75" />
<line x1="412.90" y1="81.70" x2="417.10" y2="81.70" stroke="#000" stroke-width="0.75" />
<line x1="412.90" y1="91.70" x2="417.10" y2="91.70" stroke="#000" stroke-width="0.75" />
<line x1="427.50" y1="81.70" x2="427.50" y2="91.70" stroke="#000" stroke-width="0.75" />
<line x1="425.40" y1="81.70" x2="429.60" y2="81.70" stroke="#000" stroke-width="0.75" />
<line x1="425.40" y1="91.70" x2="429.60" y2="91.70" stroke="#000" stroke-width="0.75" />
<line x1="440.00" y1="82.00" x2="440.00" y2="92.00" stroke="#000" stroke-width="0.75" />
<line x1="437.90" y1="82.00" x2="442.10" y2="82.00" stroke="#000" stroke-width="0.75" />
<line x1="437.90" y1="92.00" x2="442.10" y2="92.00" stroke="#000" stroke-width="0.75" />
<line x1="452.50" y1="82.00" x2="452.50" y2="92.00" stroke="#000" stroke-width="0.75" />
<line x1="450.40" y1="82.00" x2="454.60" y2="82.00" stroke="#000" stroke-width="0.75" />
<line x1="450.40" y1="92.00" x2="454.60" y2="92.00" stroke="#000" stroke-width="0.75" />
<line x1="465.00" y1="80.90" x2="465.00" y2="90.90" stroke="#000" stroke-width="0.75" />
<line x1="462.90" y1="80.90" x2="467.10" y2="80.90" stroke="#000" stroke-width="0.75" />
<line x1="462.90" y1="90.90" x2="467.10" y2="90.90" stroke="#000" stroke-width="0.75" />
<line x1="477.50" y1="80.30" x2="477.50" y2="90.30" stroke="#000" stroke-width="0.75" />
<line x1="475.40" y1="80.30" x2="479.60" y2="80.30" stroke="#000" stroke-width="0.75" />
<line x1="475.40" y1="90.30" x2="479.60" y2="90.30" stroke="#000" stroke-width="0.75" />
<line x1="490.00" y1="80.60" x2="490.00" y2="90.60" stroke="#000" stroke-width="0.75" />
<line x1="487.90" y1="80.60" x2="492.10" y2="80.60" stroke="#000" stroke-width="0.75" />
<line x1="487.90" y1="90.60" x2="492.10" y2="90.60" stroke="#000" stroke-width="0.75" />
<polyline points="377.50,88.20 390.00,87.60 402.50,88.50 415.00,86.70 427.50,86.70 440.00,87.00 452.50,87.00 465.00,85.90 477.50,85.30 490.00,85.60" fill="none" stroke="#000" stroke-width="0.85"/>
<circle cx="377.50" cy="88.20" r="1.93" fill="#fff" stroke="#000" stroke-width="1.15"/>
<circle cx="390.00" cy="87.60" r="1.93" fill="#fff" stroke="#000" stroke-width="1.15"/>
<circle cx="402.50" cy="88.50" r="1.93" fill="#fff" stroke="#000" stroke-width="1.15"/>
<circle cx="415.00" cy="86.70" r="1.93" fill="#fff" stroke="#000" stroke-width="1.15"/>
<circle cx="427.50" cy="86.70" r="1.93" fill="#fff" stroke="#000" stroke-width="1.15"/>
<circle cx="440.00" cy="87.00" r="1.93" fill="#fff" stroke="#000" stroke-width="1.15"/>
<circle cx="452.50" cy="87.00" r="1.93" fill="#fff" stroke="#000" stroke-width="1.15"/>
<circle cx="465.00" cy="85.90" r="1.93" fill="#fff" stroke="#000" stroke-width="1.15"/>
<circle cx="477.50" cy="85.30" r="1.93" fill="#fff" stroke="#000" stroke-width="1.15"/>
<circle cx="490.00" cy="85.60" r="1.93" fill="#fff" stroke="#000" stroke-width="1.15"/>
<line x1="377.50" y1="57.00" x2="377.50" y2="68.00" stroke="#000" stroke-width="0.75" />
<line x1="375.40" y1="57.00" x2="379.60" y2="57.00" stroke="#000" stroke-width="0.75" />
<line x1="375.40" y1="68.00" x2="379.60" y2="68.00" stroke="#000" stroke-width="0.75" />
<line x1="390.00" y1="59.00" x2="390.00" y2="70.00" stroke="#000" stroke-width="0.75" />
<line x1="387.90" y1="59.00" x2="392.10" y2="59.00" stroke="#000" stroke-width="0.75" />
<line x1="387.90" y1="70.00" x2="392.10" y2="70.00" stroke="#000" stroke-width="0.75" />
<line x1="402.50" y1="59.70" x2="402.50" y2="70.70" stroke="#000" stroke-width="0.75" />
<line x1="400.40" y1="59.70" x2="404.60" y2="59.70" stroke="#000" stroke-width="0.75" />
<line x1="400.40" y1="70.70" x2="404.60" y2="70.70" stroke="#000" stroke-width="0.75" />
<line x1="415.00" y1="58.30" x2="415.00" y2="69.30" stroke="#000" stroke-width="0.75" />
<line x1="412.90" y1="58.30" x2="417.10" y2="58.30" stroke="#000" stroke-width="0.75" />
<line x1="412.90" y1="69.30" x2="417.10" y2="69.30" stroke="#000" stroke-width="0.75" />
<line x1="427.50" y1="57.40" x2="427.50" y2="68.40" stroke="#000" stroke-width="0.75" />
<line x1="425.40" y1="57.40" x2="429.60" y2="57.40" stroke="#000" stroke-width="0.75" />
<line x1="425.40" y1="68.40" x2="429.60" y2="68.40" stroke="#000" stroke-width="0.75" />
<line x1="440.00" y1="57.70" x2="440.00" y2="68.70" stroke="#000" stroke-width="0.75" />
<line x1="437.90" y1="57.70" x2="442.10" y2="57.70" stroke="#000" stroke-width="0.75" />
<line x1="437.90" y1="68.70" x2="442.10" y2="68.70" stroke="#000" stroke-width="0.75" />
<line x1="452.50" y1="57.70" x2="452.50" y2="68.70" stroke="#000" stroke-width="0.75" />
<line x1="450.40" y1="57.70" x2="454.60" y2="57.70" stroke="#000" stroke-width="0.75" />
<line x1="450.40" y1="68.70" x2="454.60" y2="68.70" stroke="#000" stroke-width="0.75" />
<line x1="465.00" y1="56.10" x2="465.00" y2="67.10" stroke="#000" stroke-width="0.75" />
<line x1="462.90" y1="56.10" x2="467.10" y2="56.10" stroke="#000" stroke-width="0.75" />
<line x1="462.90" y1="67.10" x2="467.10" y2="67.10" stroke="#000" stroke-width="0.75" />
<line x1="477.50" y1="54.80" x2="477.50" y2="65.80" stroke="#000" stroke-width="0.75" />
<line x1="475.40" y1="54.80" x2="479.60" y2="54.80" stroke="#000" stroke-width="0.75" />
<line x1="475.40" y1="65.80" x2="479.60" y2="65.80" stroke="#000" stroke-width="0.75" />
<line x1="490.00" y1="55.00" x2="490.00" y2="66.00" stroke="#000" stroke-width="0.75" />
<line x1="487.90" y1="55.00" x2="492.10" y2="55.00" stroke="#000" stroke-width="0.75" />
<line x1="487.90" y1="66.00" x2="492.10" y2="66.00" stroke="#000" stroke-width="0.75" />
<polyline points="377.50,62.50 390.00,64.50 402.50,65.20 415.00,63.80 427.50,62.90 440.00,63.20 452.50,63.20 465.00,61.60 477.50,60.30 490.00,60.50" fill="none" stroke="#000" stroke-width="0.85"/>
<circle cx="377.50" cy="62.50" r="2.40" fill="#000"/>
<circle cx="390.00" cy="64.50" r="2.40" fill="#000"/>
<circle cx="402.50" cy="65.20" r="2.40" fill="#000"/>
<circle cx="415.00" cy="63.80" r="2.40" fill="#000"/>
<circle cx="427.50" cy="62.90" r="2.40" fill="#000"/>
<circle cx="440.00" cy="63.20" r="2.40" fill="#000"/>
<circle cx="452.50" cy="63.20" r="2.40" fill="#000"/>
<circle cx="465.00" cy="61.60" r="2.40" fill="#000"/>
<circle cx="477.50" cy="60.30" r="2.40" fill="#000"/>
<circle cx="490.00" cy="60.50" r="2.40" fill="#000"/>
<line x1="377.50" y1="60.00" x2="377.50" y2="69.00" stroke="#9e00e6" stroke-width="0.75" />
<line x1="375.40" y1="60.00" x2="379.60" y2="60.00" stroke="#9e00e6" stroke-width="0.75" />
<line x1="375.40" y1="69.00" x2="379.60" y2="69.00" stroke="#9e00e6" stroke-width="0.75" />
<line x1="390.00" y1="68.60" x2="390.00" y2="77.60" stroke="#9e00e6" stroke-width="0.75" />
<line x1="387.90" y1="68.60" x2="392.10" y2="68.60" stroke="#9e00e6" stroke-width="0.75" />
<line x1="387.90" y1="77.60" x2="392.10" y2="77.60" stroke="#9e00e6" stroke-width="0.75" />
<line x1="402.50" y1="72.30" x2="402.50" y2="81.30" stroke="#9e00e6" stroke-width="0.75" />
<line x1="400.40" y1="72.30" x2="404.60" y2="72.30" stroke="#9e00e6" stroke-width="0.75" />
<line x1="400.40" y1="81.30" x2="404.60" y2="81.30" stroke="#9e00e6" stroke-width="0.75" />
<line x1="415.00" y1="74.20" x2="415.00" y2="83.20" stroke="#9e00e6" stroke-width="0.75" />
<line x1="412.90" y1="74.20" x2="417.10" y2="74.20" stroke="#9e00e6" stroke-width="0.75" />
<line x1="412.90" y1="83.20" x2="417.10" y2="83.20" stroke="#9e00e6" stroke-width="0.75" />
<line x1="427.50" y1="79.50" x2="427.50" y2="88.50" stroke="#9e00e6" stroke-width="0.75" />
<line x1="425.40" y1="79.50" x2="429.60" y2="79.50" stroke="#9e00e6" stroke-width="0.75" />
<line x1="425.40" y1="88.50" x2="429.60" y2="88.50" stroke="#9e00e6" stroke-width="0.75" />
<line x1="440.00" y1="82.70" x2="440.00" y2="91.70" stroke="#9e00e6" stroke-width="0.75" />
<line x1="437.90" y1="82.70" x2="442.10" y2="82.70" stroke="#9e00e6" stroke-width="0.75" />
<line x1="437.90" y1="91.70" x2="442.10" y2="91.70" stroke="#9e00e6" stroke-width="0.75" />
<line x1="452.50" y1="83.50" x2="452.50" y2="92.50" stroke="#9e00e6" stroke-width="0.75" />
<line x1="450.40" y1="83.50" x2="454.60" y2="83.50" stroke="#9e00e6" stroke-width="0.75" />
<line x1="450.40" y1="92.50" x2="454.60" y2="92.50" stroke="#9e00e6" stroke-width="0.75" />
<line x1="465.00" y1="85.10" x2="465.00" y2="94.10" stroke="#9e00e6" stroke-width="0.75" />
<line x1="462.90" y1="85.10" x2="467.10" y2="85.10" stroke="#9e00e6" stroke-width="0.75" />
<line x1="462.90" y1="94.10" x2="467.10" y2="94.10" stroke="#9e00e6" stroke-width="0.75" />
<line x1="477.50" y1="84.40" x2="477.50" y2="93.40" stroke="#9e00e6" stroke-width="0.75" />
<line x1="475.40" y1="84.40" x2="479.60" y2="84.40" stroke="#9e00e6" stroke-width="0.75" />
<line x1="475.40" y1="93.40" x2="479.60" y2="93.40" stroke="#9e00e6" stroke-width="0.75" />
<line x1="490.00" y1="83.70" x2="490.00" y2="92.70" stroke="#9e00e6" stroke-width="0.75" />
<line x1="487.90" y1="83.70" x2="492.10" y2="83.70" stroke="#9e00e6" stroke-width="0.75" />
<line x1="487.90" y1="92.70" x2="492.10" y2="92.70" stroke="#9e00e6" stroke-width="0.75" />
<polyline points="377.50,64.50 390.00,73.10 402.50,76.80 415.00,78.70 427.50,84.00 440.00,87.20 452.50,88.00 465.00,89.60 477.50,88.90 490.00,88.20" fill="none" stroke="#9e00e6" stroke-width="0.85"/>
<rect x="374.90" y="61.90" width="5.20" height="5.20" fill="#9e00e6"/>
<rect x="387.40" y="70.50" width="5.20" height="5.20" fill="#9e00e6"/>
<rect x="399.90" y="74.20" width="5.20" height="5.20" fill="#9e00e6"/>
<rect x="412.40" y="76.10" width="5.20" height="5.20" fill="#9e00e6"/>
<rect x="424.90" y="81.40" width="5.20" height="5.20" fill="#9e00e6"/>
<rect x="437.40" y="84.60" width="5.20" height="5.20" fill="#9e00e6"/>
<rect x="449.90" y="85.40" width="5.20" height="5.20" fill="#9e00e6"/>
<rect x="462.40" y="87.00" width="5.20" height="5.20" fill="#9e00e6"/>
<rect x="474.90" y="86.30" width="5.20" height="5.20" fill="#9e00e6"/>
<rect x="487.40" y="85.60" width="5.20" height="5.20" fill="#9e00e6"/>
<line x1="375.60" y1="123.70" x2="379.40" y2="123.70" stroke="#9e00e6" stroke-width="0.8" />
<line x1="377.50" y1="121.80" x2="377.50" y2="125.60" stroke="#9e00e6" stroke-width="0.8" />
<line x1="382.30" y1="123.90" x2="414.90" y2="123.90" stroke="#9e00e6" stroke-width="1.5" />
<line x1="462.60" y1="121.50" x2="466.40" y2="121.50" stroke="#333" stroke-width="0.8" />
<line x1="464.50" y1="119.60" x2="464.50" y2="123.40" stroke="#333" stroke-width="0.8" />
<line x1="468.90" y1="121.90" x2="489.30" y2="121.90" stroke="#000" stroke-width="1.5" />
<line x1="439.10" y1="124.00" x2="438.40" y2="128.60" stroke="#9e00e6" stroke-width="0.9" />
<line x1="440.60" y1="124.00" x2="439.90" y2="128.60" stroke="#9e00e6" stroke-width="0.9" />
<line x1="437.70" y1="125.50" x2="441.30" y2="125.50" stroke="#9e00e6" stroke-width="0.9" />
<line x1="437.70" y1="127.10" x2="441.30" y2="127.10" stroke="#9e00e6" stroke-width="0.9" />
<line x1="443.20" y1="126.80" x2="489.30" y2="126.80" stroke="#9e00e6" stroke-width="1.5" />
<line x1="524.10" y1="51.50" x2="538.80" y2="51.50" stroke="#000" stroke-width="1.2" />
<circle cx="531.40" cy="51.50" r="2.50" fill="#000"/>
<text x="543.90" y="55.10" transform="rotate(0.03 543.90 55.10)" font-size="9.8" font-style="italic" fill="#1e1e1e" textLength="18.99" lengthAdjust="spacingAndGlyphs" >Gipr</text>
<text x="564.47" y="50.90" transform="rotate(0.03 564.47 50.90)" font-size="6.8" fill="#333" textLength="11.23" lengthAdjust="spacingAndGlyphs" >fl/fl</text>
<text x="576.10" y="55.10" transform="rotate(0.03 576.10 55.10)" font-size="9.8" fill="#1e1e1e" textLength="39.03" lengthAdjust="spacingAndGlyphs" >/vehicle</text>
<line x1="524.10" y1="71.10" x2="538.80" y2="71.10" stroke="#9e00e6" stroke-width="1.2" />
<rect x="528.75" y="68.45" width="5.30" height="5.30" fill="#9e00e6"/>
<text x="543.90" y="74.70" transform="rotate(0.03 543.90 74.70)" font-size="9.8" font-style="italic" fill="#1e1e1e" textLength="18.99" lengthAdjust="spacingAndGlyphs" >Gipr</text>
<text x="564.47" y="70.50" transform="rotate(0.03 564.47 70.50)" font-size="6.8" fill="#333" textLength="11.23" lengthAdjust="spacingAndGlyphs" >fl/fl</text>
<text x="576.10" y="74.70" transform="rotate(0.03 576.10 74.70)" font-size="9.8" fill="#1e1e1e" textLength="67.09" lengthAdjust="spacingAndGlyphs" >/mGIPR-Ab/P1</text>
<line x1="524.10" y1="89.40" x2="538.80" y2="89.40" stroke="#000" stroke-width="1.2" />
<circle cx="531.4" cy="89.4" r="1.75" fill="none" stroke="#000" stroke-width="1.1"/>
<text x="543.90" y="93.00" transform="rotate(0.03 543.90 93.00)" font-size="9.8" font-style="italic" fill="#1e1e1e" textLength="18.99" lengthAdjust="spacingAndGlyphs" >Gipr</text>
<text x="564.28" y="88.80" transform="rotate(0.03 564.28 88.80)" font-size="6.8" fill="#333" textLength="22.36" lengthAdjust="spacingAndGlyphs" >Syn−/−</text>
<text x="587.30" y="93.00" transform="rotate(0.03 587.30 93.00)" font-size="9.8" fill="#1e1e1e" textLength="37.91" lengthAdjust="spacingAndGlyphs" >/vehicle</text>
<line x1="524.10" y1="107.30" x2="538.80" y2="107.30" stroke="#9e00e6" stroke-width="1.2" />
<rect x="529.3" y="105.20" width="4.2" height="4.2" fill="none" stroke="#9e00e6" stroke-width="1.1"/>
<text x="543.90" y="110.90" transform="rotate(0.03 543.90 110.90)" font-size="9.8" font-style="italic" fill="#1e1e1e" textLength="18.99" lengthAdjust="spacingAndGlyphs" >Gipr</text>
<text x="564.28" y="106.70" transform="rotate(0.03 564.28 106.70)" font-size="6.8" fill="#333" textLength="22.36" lengthAdjust="spacingAndGlyphs" >Syn−/−</text>
<text x="587.30" y="110.90" transform="rotate(0.03 587.30 110.90)" font-size="9.8" fill="#1e1e1e" textLength="66.89" lengthAdjust="spacingAndGlyphs" >/mGIPR-Ab/P1</text>
<text x="57.33" y="194.40" transform="rotate(0.03 57.33 194.40)" font-size="10.2" fill="#1e1e1e" textLength="80.09" lengthAdjust="spacingAndGlyphs" >Daily food intake</text>
<text transform="translate(20.70,297.24) rotate(-89.97)" x="0" y="0" font-size="10.4" fill="#1e1e1e" textLength="70.58" lengthAdjust="spacingAndGlyphs">Food intake (g)</text>
<line x1="41.50" y1="215.40" x2="41.50" y2="309.40" stroke="#686868" stroke-width="1" />
<line x1="37.50" y1="215.40" x2="41.50" y2="215.40" stroke="#686868" stroke-width="1" />
<text x="29.16" y="217.82" transform="rotate(0.03 29.16 217.82)" font-size="9.0" fill="#1e1e1e" textLength="5.01" lengthAdjust="spacingAndGlyphs">5</text>
<line x1="37.50" y1="234.20" x2="41.50" y2="234.20" stroke="#686868" stroke-width="1" />
<text x="29.07" y="236.62" transform="rotate(0.03 29.07 236.62)" font-size="9.0" fill="#1e1e1e" textLength="5.01" lengthAdjust="spacingAndGlyphs">4</text>
<line x1="37.50" y1="253.00" x2="41.50" y2="253.00" stroke="#686868" stroke-width="1" />
<text x="29.16" y="255.42" transform="rotate(0.03 29.16 255.42)" font-size="9.0" fill="#1e1e1e" textLength="5.01" lengthAdjust="spacingAndGlyphs">3</text>
<line x1="37.50" y1="271.80" x2="41.50" y2="271.80" stroke="#686868" stroke-width="1" />
<text x="29.25" y="274.22" transform="rotate(0.03 29.25 274.22)" font-size="9.0" fill="#1e1e1e" textLength="5.01" lengthAdjust="spacingAndGlyphs">2</text>
<line x1="37.50" y1="290.60" x2="41.50" y2="290.60" stroke="#686868" stroke-width="1" />
<text x="29.21" y="293.02" transform="rotate(0.03 29.21 293.02)" font-size="9.0" fill="#1e1e1e" textLength="5.01" lengthAdjust="spacingAndGlyphs">1</text>
<line x1="37.50" y1="309.40" x2="41.50" y2="309.40" stroke="#686868" stroke-width="1" />
<text x="29.12" y="311.82" transform="rotate(0.03 29.12 311.82)" font-size="9.0" fill="#1e1e1e" textLength="5.01" lengthAdjust="spacingAndGlyphs">0</text>
<line x1="38.00" y1="309.40" x2="154.30" y2="309.40" stroke="#686868" stroke-width="1" />
<line x1="41.50" y1="309.40" x2="41.50" y2="313.40" stroke="#686868" stroke-width="1" />
<text x="38.98" y="324.42" transform="rotate(0.03 38.98 324.42)" font-size="9.0" fill="#1e1e1e" textLength="5.01" lengthAdjust="spacingAndGlyphs">0</text>
<line x1="54.04" y1="309.40" x2="54.04" y2="313.40" stroke="#686868" stroke-width="1" />
<text x="51.54" y="324.42" transform="rotate(0.03 51.54 324.42)" font-size="9.0" fill="#1e1e1e" textLength="5.01" lengthAdjust="spacingAndGlyphs">2</text>
<line x1="66.58" y1="309.40" x2="66.58" y2="313.40" stroke="#686868" stroke-width="1" />
<text x="64.13" y="324.42" transform="rotate(0.03 64.13 324.42)" font-size="9.0" fill="#1e1e1e" textLength="5.01" lengthAdjust="spacingAndGlyphs">4</text>
<line x1="79.12" y1="309.40" x2="79.12" y2="313.40" stroke="#686868" stroke-width="1" />
<text x="76.58" y="324.42" transform="rotate(0.03 76.58 324.42)" font-size="9.0" fill="#1e1e1e" textLength="5.01" lengthAdjust="spacingAndGlyphs">6</text>
<line x1="91.66" y1="309.40" x2="91.66" y2="313.40" stroke="#686868" stroke-width="1" />
<text x="89.14" y="324.42" transform="rotate(0.03 89.14 324.42)" font-size="9.0" fill="#1e1e1e" textLength="5.01" lengthAdjust="spacingAndGlyphs">8</text>
<line x1="104.20" y1="309.40" x2="104.20" y2="313.40" stroke="#686868" stroke-width="1" />
<text x="99.02" y="324.42" transform="rotate(0.03 99.02 324.42)" font-size="9.0" fill="#1e1e1e" textLength="10.01" lengthAdjust="spacingAndGlyphs">10</text>
<line x1="116.74" y1="309.40" x2="116.74" y2="313.40" stroke="#686868" stroke-width="1" />
<text x="111.63" y="324.42" transform="rotate(0.03 111.63 324.42)" font-size="9.0" fill="#1e1e1e" textLength="10.01" lengthAdjust="spacingAndGlyphs">12</text>
<line x1="129.28" y1="309.40" x2="129.28" y2="313.40" stroke="#686868" stroke-width="1" />
<text x="124.08" y="324.42" transform="rotate(0.03 124.08 324.42)" font-size="9.0" fill="#1e1e1e" textLength="10.01" lengthAdjust="spacingAndGlyphs">14</text>
<line x1="141.82" y1="309.40" x2="141.82" y2="313.40" stroke="#686868" stroke-width="1" />
<text x="136.67" y="324.42" transform="rotate(0.03 136.67 324.42)" font-size="9.0" fill="#1e1e1e" textLength="10.01" lengthAdjust="spacingAndGlyphs">16</text>
<line x1="154.36" y1="309.40" x2="154.36" y2="313.40" stroke="#686868" stroke-width="1" />
<text x="149.21" y="324.42" transform="rotate(0.03 149.21 324.42)" font-size="9.0" fill="#1e1e1e" textLength="10.01" lengthAdjust="spacingAndGlyphs">18</text>
<text x="88.95" y="339.00" transform="rotate(0.03 88.95 339.00)" font-size="10.2" fill="#1e1e1e" textLength="16.74" lengthAdjust="spacingAndGlyphs" >Day</text>
<line x1="54.04" y1="282.50" x2="54.04" y2="287.50" stroke="#9e00e6" stroke-width="0.75" />
<line x1="51.94" y1="282.50" x2="56.14" y2="282.50" stroke="#9e00e6" stroke-width="0.75" />
<line x1="51.94" y1="287.50" x2="56.14" y2="287.50" stroke="#9e00e6" stroke-width="0.75" />
<line x1="66.58" y1="280.70" x2="66.58" y2="285.70" stroke="#9e00e6" stroke-width="0.75" />
<line x1="64.48" y1="280.70" x2="68.68" y2="280.70" stroke="#9e00e6" stroke-width="0.75" />
<line x1="64.48" y1="285.70" x2="68.68" y2="285.70" stroke="#9e00e6" stroke-width="0.75" />
<line x1="79.12" y1="277.60" x2="79.12" y2="282.60" stroke="#9e00e6" stroke-width="0.75" />
<line x1="77.02" y1="277.60" x2="81.22" y2="277.60" stroke="#9e00e6" stroke-width="0.75" />
<line x1="77.02" y1="282.60" x2="81.22" y2="282.60" stroke="#9e00e6" stroke-width="0.75" />
<line x1="91.66" y1="269.40" x2="91.66" y2="274.40" stroke="#9e00e6" stroke-width="0.75" />
<line x1="89.56" y1="269.40" x2="93.76" y2="269.40" stroke="#9e00e6" stroke-width="0.75" />
<line x1="89.56" y1="274.40" x2="93.76" y2="274.40" stroke="#9e00e6" stroke-width="0.75" />
<line x1="104.20" y1="268.20" x2="104.20" y2="273.20" stroke="#9e00e6" stroke-width="0.75" />
<line x1="102.10" y1="268.20" x2="106.30" y2="268.20" stroke="#9e00e6" stroke-width="0.75" />
<line x1="102.10" y1="273.20" x2="106.30" y2="273.20" stroke="#9e00e6" stroke-width="0.75" />
<line x1="116.74" y1="268.90" x2="116.74" y2="273.90" stroke="#9e00e6" stroke-width="0.75" />
<line x1="114.64" y1="268.90" x2="118.84" y2="268.90" stroke="#9e00e6" stroke-width="0.75" />
<line x1="114.64" y1="273.90" x2="118.84" y2="273.90" stroke="#9e00e6" stroke-width="0.75" />
<line x1="129.28" y1="266.90" x2="129.28" y2="271.90" stroke="#9e00e6" stroke-width="0.75" />
<line x1="127.18" y1="266.90" x2="131.38" y2="266.90" stroke="#9e00e6" stroke-width="0.75" />
<line x1="127.18" y1="271.90" x2="131.38" y2="271.90" stroke="#9e00e6" stroke-width="0.75" />
<line x1="141.82" y1="268.90" x2="141.82" y2="273.90" stroke="#9e00e6" stroke-width="0.75" />
<line x1="139.72" y1="268.90" x2="143.92" y2="268.90" stroke="#9e00e6" stroke-width="0.75" />
<line x1="139.72" y1="273.90" x2="143.92" y2="273.90" stroke="#9e00e6" stroke-width="0.75" />
<line x1="154.36" y1="270.20" x2="154.36" y2="275.20" stroke="#9e00e6" stroke-width="0.75" />
<line x1="152.26" y1="270.20" x2="156.46" y2="270.20" stroke="#9e00e6" stroke-width="0.75" />
<line x1="152.26" y1="275.20" x2="156.46" y2="275.20" stroke="#9e00e6" stroke-width="0.75" />
<polyline points="54.04,285.00 66.58,283.20 79.12,280.10 91.66,271.90 104.20,270.70 116.74,271.40 129.28,269.40 141.82,271.40 154.36,272.70" fill="none" stroke="#9e00e6" stroke-width="0.85"/>
<rect x="52.12" y="283.07" width="3.85" height="3.85" fill="#fff" stroke="#9e00e6" stroke-width="1.15"/>
<rect x="64.66" y="281.27" width="3.85" height="3.85" fill="#fff" stroke="#9e00e6" stroke-width="1.15"/>
<rect x="77.20" y="278.18" width="3.85" height="3.85" fill="#fff" stroke="#9e00e6" stroke-width="1.15"/>
<rect x="89.73" y="269.97" width="3.85" height="3.85" fill="#fff" stroke="#9e00e6" stroke-width="1.15"/>
<rect x="102.27" y="268.77" width="3.85" height="3.85" fill="#fff" stroke="#9e00e6" stroke-width="1.15"/>
<rect x="114.81" y="269.47" width="3.85" height="3.85" fill="#fff" stroke="#9e00e6" stroke-width="1.15"/>
<rect x="127.36" y="267.47" width="3.85" height="3.85" fill="#fff" stroke="#9e00e6" stroke-width="1.15"/>
<rect x="139.89" y="269.47" width="3.85" height="3.85" fill="#fff" stroke="#9e00e6" stroke-width="1.15"/>
<rect x="152.43" y="270.77" width="3.85" height="3.85" fill="#fff" stroke="#9e00e6" stroke-width="1.15"/>
<polyline points="54.04,260.60 66.58,266.50 79.12,265.60 91.66,264.70 104.20,270.00 116.74,265.40 129.28,256.60 141.82,264.50 154.36,264.50" fill="none" stroke="#000" stroke-width="0.85"/>
<circle cx="54.04" cy="260.60" r="1.88" fill="#fff" stroke="#000" stroke-width="1.15"/>
<circle cx="66.58" cy="266.50" r="1.88" fill="#fff" stroke="#000" stroke-width="1.15"/>
<circle cx="79.12" cy="265.60" r="1.88" fill="#fff" stroke="#000" stroke-width="1.15"/>
<circle cx="91.66" cy="264.70" r="1.88" fill="#fff" stroke="#000" stroke-width="1.15"/>
<circle cx="104.20" cy="270.00" r="1.88" fill="#fff" stroke="#000" stroke-width="1.15"/>
<circle cx="116.74" cy="265.40" r="1.88" fill="#fff" stroke="#000" stroke-width="1.15"/>
<circle cx="129.28" cy="256.60" r="1.88" fill="#fff" stroke="#000" stroke-width="1.15"/>
<circle cx="141.82" cy="264.50" r="1.88" fill="#fff" stroke="#000" stroke-width="1.15"/>
<circle cx="154.36" cy="264.50" r="1.88" fill="#fff" stroke="#000" stroke-width="1.15"/>
<line x1="54.04" y1="254.10" x2="54.04" y2="265.10" stroke="#000" stroke-width="0.75" />
<line x1="51.94" y1="254.10" x2="56.14" y2="254.10" stroke="#000" stroke-width="0.75" />
<line x1="51.94" y1="265.10" x2="56.14" y2="265.10" stroke="#000" stroke-width="0.75" />
<line x1="66.58" y1="257.30" x2="66.58" y2="263.30" stroke="#000" stroke-width="0.75" />
<line x1="64.48" y1="257.30" x2="68.68" y2="257.30" stroke="#000" stroke-width="0.75" />
<line x1="64.48" y1="263.30" x2="68.68" y2="263.30" stroke="#000" stroke-width="0.75" />
<polyline points="54.04,259.60 66.58,260.30 79.12,259.10 91.66,255.00 104.20,259.90 116.74,258.20 129.28,250.30 141.82,256.60 154.36,256.90" fill="none" stroke="#000" stroke-width="0.85"/>
<circle cx="54.04" cy="259.60" r="2.10" fill="#000"/>
<circle cx="66.58" cy="260.30" r="2.10" fill="#000"/>
<circle cx="79.12" cy="259.10" r="2.10" fill="#000"/>
<circle cx="91.66" cy="255.00" r="2.10" fill="#000"/>
<circle cx="104.20" cy="259.90" r="2.10" fill="#000"/>
<circle cx="116.74" cy="258.20" r="2.10" fill="#000"/>
<circle cx="129.28" cy="250.30" r="2.10" fill="#000"/>
<circle cx="141.82" cy="256.60" r="2.10" fill="#000"/>
<circle cx="154.36" cy="256.90" r="2.10" fill="#000"/>
<line x1="54.04" y1="284.30" x2="54.04" y2="289.30" stroke="#9e00e6" stroke-width="0.75" />
<line x1="51.94" y1="284.30" x2="56.14" y2="284.30" stroke="#9e00e6" stroke-width="0.75" />
<line x1="51.94" y1="289.30" x2="56.14" y2="289.30" stroke="#9e00e6" stroke-width="0.75" />
<line x1="66.58" y1="276.90" x2="66.58" y2="281.90" stroke="#9e00e6" stroke-width="0.75" />
<line x1="64.48" y1="276.90" x2="68.68" y2="276.90" stroke="#9e00e6" stroke-width="0.75" />
<line x1="64.48" y1="281.90" x2="68.68" y2="281.90" stroke="#9e00e6" stroke-width="0.75" />
<line x1="79.12" y1="271.80" x2="79.12" y2="276.80" stroke="#9e00e6" stroke-width="0.75" />
<line x1="77.02" y1="271.80" x2="81.22" y2="271.80" stroke="#9e00e6" stroke-width="0.75" />
<line x1="77.02" y1="276.80" x2="81.22" y2="276.80" stroke="#9e00e6" stroke-width="0.75" />
<line x1="91.66" y1="279.40" x2="91.66" y2="284.40" stroke="#9e00e6" stroke-width="0.75" />
<line x1="89.56" y1="279.40" x2="93.76" y2="279.40" stroke="#9e00e6" stroke-width="0.75" />
<line x1="89.56" y1="284.40" x2="93.76" y2="284.40" stroke="#9e00e6" stroke-width="0.75" />
<line x1="104.20" y1="277.00" x2="104.20" y2="282.00" stroke="#9e00e6" stroke-width="0.75" />
<line x1="102.10" y1="277.00" x2="106.30" y2="277.00" stroke="#9e00e6" stroke-width="0.75" />
<line x1="102.10" y1="282.00" x2="106.30" y2="282.00" stroke="#9e00e6" stroke-width="0.75" />
<line x1="116.74" y1="271.20" x2="116.74" y2="276.20" stroke="#9e00e6" stroke-width="0.75" />
<line x1="114.64" y1="271.20" x2="118.84" y2="271.20" stroke="#9e00e6" stroke-width="0.75" />
<line x1="114.64" y1="276.20" x2="118.84" y2="276.20" stroke="#9e00e6" stroke-width="0.75" />
<line x1="129.28" y1="273.20" x2="129.28" y2="278.20" stroke="#9e00e6" stroke-width="0.75" />
<line x1="127.18" y1="273.20" x2="131.38" y2="273.20" stroke="#9e00e6" stroke-width="0.75" />
<line x1="127.18" y1="278.20" x2="131.38" y2="278.20" stroke="#9e00e6" stroke-width="0.75" />
<line x1="141.82" y1="272.20" x2="141.82" y2="277.20" stroke="#9e00e6" stroke-width="0.75" />
<line x1="139.72" y1="272.20" x2="143.92" y2="272.20" stroke="#9e00e6" stroke-width="0.75" />
<line x1="139.72" y1="277.20" x2="143.92" y2="277.20" stroke="#9e00e6" stroke-width="0.75" />
<line x1="154.36" y1="262.30" x2="154.36" y2="267.30" stroke="#9e00e6" stroke-width="0.75" />
<line x1="152.26" y1="262.30" x2="156.46" y2="262.30" stroke="#9e00e6" stroke-width="0.75" />
<line x1="152.26" y1="267.30" x2="156.46" y2="267.30" stroke="#9e00e6" stroke-width="0.75" />
<polyline points="54.04,286.80 66.58,279.40 79.12,274.30 91.66,281.90 104.20,279.50 116.74,273.70 129.28,275.70 141.82,274.70 154.36,264.80" fill="none" stroke="#9e00e6" stroke-width="0.85"/>
<rect x="51.89" y="284.65" width="4.30" height="4.30" fill="#9e00e6"/>
<rect x="64.43" y="277.25" width="4.30" height="4.30" fill="#9e00e6"/>
<rect x="76.97" y="272.15" width="4.30" height="4.30" fill="#9e00e6"/>
<rect x="89.51" y="279.75" width="4.30" height="4.30" fill="#9e00e6"/>
<rect x="102.05" y="277.35" width="4.30" height="4.30" fill="#9e00e6"/>
<rect x="114.59" y="271.55" width="4.30" height="4.30" fill="#9e00e6"/>
<rect x="127.13" y="273.55" width="4.30" height="4.30" fill="#9e00e6"/>
<rect x="139.67" y="272.55" width="4.30" height="4.30" fill="#9e00e6"/>
<rect x="152.21" y="262.65" width="4.30" height="4.30" fill="#9e00e6"/>
<polyline points="51.10,300.90 52.70,298.30 54.30,300.90" fill="none" stroke="#9e00e6" stroke-width="0.9"/>
<line x1="55.70" y1="300.50" x2="78.60" y2="300.50" stroke="#9e00e6" stroke-width="1.4" />
<line x1="52.30" y1="303.30" x2="51.60" y2="307.90" stroke="#9e00e6" stroke-width="0.9" />
<line x1="53.80" y1="303.30" x2="53.10" y2="307.90" stroke="#9e00e6" stroke-width="0.9" />
<line x1="50.90" y1="304.80" x2="54.50" y2="304.80" stroke="#9e00e6" stroke-width="0.9" />
<line x1="50.90" y1="306.40" x2="54.50" y2="306.40" stroke="#9e00e6" stroke-width="0.9" />
<line x1="55.70" y1="306.50" x2="66.90" y2="306.50" stroke="#9e00e6" stroke-width="1.4" />
<line x1="88.00" y1="300.30" x2="91.80" y2="300.30" stroke="#333" stroke-width="0.8" />
<line x1="89.90" y1="298.40" x2="89.90" y2="302.20" stroke="#333" stroke-width="0.8" />
<line x1="93.20" y1="300.20" x2="104.40" y2="300.20" stroke="#000" stroke-width="1.4" />
<line x1="89.60" y1="303.40" x2="88.90" y2="308.00" stroke="#9e00e6" stroke-width="0.9" />
<line x1="91.10" y1="303.40" x2="90.40" y2="308.00" stroke="#9e00e6" stroke-width="0.9" />
<line x1="88.20" y1="304.90" x2="91.80" y2="304.90" stroke="#9e00e6" stroke-width="0.9" />
<line x1="88.20" y1="306.50" x2="91.80" y2="306.50" stroke="#9e00e6" stroke-width="0.9" />
<line x1="93.20" y1="306.10" x2="104.40" y2="306.10" stroke="#9e00e6" stroke-width="1.4" />
<polyline points="126.70,301.00 128.30,298.40 129.90,301.00" fill="none" stroke="#9e00e6" stroke-width="0.9"/>
<line x1="127.90" y1="303.40" x2="127.20" y2="308.00" stroke="#9e00e6" stroke-width="0.9" />
<line x1="129.40" y1="303.40" x2="128.70" y2="308.00" stroke="#9e00e6" stroke-width="0.9" />
<line x1="126.50" y1="304.90" x2="130.10" y2="304.90" stroke="#9e00e6" stroke-width="0.9" />
<line x1="126.50" y1="306.50" x2="130.10" y2="306.50" stroke="#9e00e6" stroke-width="0.9" />
<line x1="131.10" y1="306.10" x2="142.10" y2="306.10" stroke="#9e00e6" stroke-width="1.4" />
<polyline points="153.90,301.00 155.50,298.40 157.10,301.00" fill="none" stroke="#9e00e6" stroke-width="0.9"/>
<text x="230.38" y="194.20" transform="rotate(0.03 230.38 194.20)" font-size="10.2" fill="#1e1e1e" textLength="41.89" lengthAdjust="spacingAndGlyphs" >Fat mass</text>
<text transform="translate(186.60,295.39) rotate(-89.97)" x="0" y="0" font-size="10.4" fill="#1e1e1e" textLength="55.61" lengthAdjust="spacingAndGlyphs">Fat mass (g)</text>
<line x1="211.40" y1="230.60" x2="211.40" y2="309.20" stroke="#686868" stroke-width="1" />
<line x1="207.40" y1="230.60" x2="211.40" y2="230.60" stroke="#686868" stroke-width="1" />
<text x="193.17" y="234.30" transform="rotate(0.03 193.17 234.30)" font-size="9.5" fill="#1e1e1e" textLength="11.41" lengthAdjust="spacingAndGlyphs">30</text>
<line x1="207.40" y1="256.80" x2="211.40" y2="256.80" stroke="#686868" stroke-width="1" />
<text x="193.17" y="260.50" transform="rotate(0.03 193.17 260.50)" font-size="9.5" fill="#1e1e1e" textLength="11.41" lengthAdjust="spacingAndGlyphs">20</text>
<line x1="207.40" y1="283.00" x2="211.40" y2="283.00" stroke="#686868" stroke-width="1" />
<text x="193.17" y="286.70" transform="rotate(0.03 193.17 286.70)" font-size="9.5" fill="#1e1e1e" textLength="11.41" lengthAdjust="spacingAndGlyphs">10</text>
<line x1="207.40" y1="309.20" x2="211.40" y2="309.20" stroke="#686868" stroke-width="1" />
<text x="198.86" y="312.90" transform="rotate(0.03 198.86 312.90)" font-size="9.5" fill="#1e1e1e" textLength="5.71" lengthAdjust="spacingAndGlyphs">0</text>
<line x1="207.40" y1="309.20" x2="291.40" y2="309.20" stroke="#686868" stroke-width="1" />
<line x1="230.30" y1="309.20" x2="230.30" y2="313.20" stroke="#686868" stroke-width="1" />
<line x1="272.40" y1="309.20" x2="272.40" y2="313.20" stroke="#686868" stroke-width="1" />
<text x="214.18" y="327.70" transform="rotate(0.03 214.18 327.70)" font-size="10.5" font-style="italic" fill="#1e1e1e" textLength="19.70" lengthAdjust="spacingAndGlyphs" >Gipr</text>
<text x="234.46" y="323.10" transform="rotate(0.03 234.46 323.10)" font-size="7.2" fill="#333" textLength="11.98" lengthAdjust="spacingAndGlyphs" >fl/fl</text>
<text x="250.67" y="327.70" transform="rotate(0.03 250.67 327.70)" font-size="10.5" font-style="italic" fill="#1e1e1e" textLength="19.90" lengthAdjust="spacingAndGlyphs" >Gipr</text>
<text x="270.96" y="323.10" transform="rotate(0.03 270.96 323.10)" font-size="7.2" fill="#333" textLength="23.70" lengthAdjust="spacingAndGlyphs" >Syn−/−</text>
<line x1="221.40" y1="206.40" x2="280.60" y2="206.40" stroke="#7a7a7a" stroke-width="1" />
<line x1="280.60" y1="206.40" x2="280.60" y2="256.10" stroke="#7a7a7a" stroke-width="1" />
<line x1="221.40" y1="206.40" x2="221.40" y2="219.90" stroke="#7a7a7a" stroke-width="1" />
<line x1="221.40" y1="215.20" x2="264.30" y2="215.20" stroke="#7a7a7a" stroke-width="1" />
<line x1="264.30" y1="215.20" x2="264.30" y2="252.90" stroke="#7a7a7a" stroke-width="1" />
<line x1="221.40" y1="226.40" x2="238.20" y2="226.40" stroke="#7a7a7a" stroke-width="1" />
<line x1="221.40" y1="226.40" x2="221.40" y2="231.50" stroke="#7a7a7a" stroke-width="1" />
<line x1="238.20" y1="226.40" x2="238.20" y2="261.60" stroke="#7a7a7a" stroke-width="1" />
<text x="233.51" y="204.40" transform="rotate(0.03 233.51 204.40)" font-size="6.9" font-style="italic" fill="#1e1e1e" textLength="4.17" lengthAdjust="spacingAndGlyphs" >P</text>
<text x="239.66" y="204.00" transform="rotate(0.03 239.66 204.00)" font-size="5.5200000000000005" fill="#1e1e1e" textLength="3.56" lengthAdjust="spacingAndGlyphs" >&lt;</text>
<text x="244.71" y="204.40" transform="rotate(0.03 244.71 204.40)" font-size="6.9" fill="#1e1e1e" textLength="24.54" lengthAdjust="spacingAndGlyphs" >0.0001</text>
<text x="225.71" y="213.80" transform="rotate(0.03 225.71 213.80)" font-size="6.9" font-style="italic" fill="#1e1e1e" textLength="4.17" lengthAdjust="spacingAndGlyphs" >P</text>
<text x="232.03" y="212.90" transform="rotate(0.03 232.03 212.90)" font-size="5.175000000000001" fill="#1e1e1e" textLength="3.22" lengthAdjust="spacingAndGlyphs" >=</text>
<text x="236.91" y="213.80" transform="rotate(0.03 236.91 213.80)" font-size="6.9" fill="#1e1e1e" textLength="24.50" lengthAdjust="spacingAndGlyphs" >0.0038</text>
<text x="212.82" y="224.10" transform="rotate(0.03 212.82 224.10)" font-size="6.9" font-style="italic" fill="#1e1e1e" textLength="4.03" lengthAdjust="spacingAndGlyphs" >P</text>
<text x="218.92" y="223.20" transform="rotate(0.03 218.92 223.20)" font-size="5.175000000000001" fill="#1e1e1e" textLength="3.11" lengthAdjust="spacingAndGlyphs" >=</text>
<text x="223.64" y="224.10" transform="rotate(0.03 223.64 224.10)" font-size="6.9" fill="#1e1e1e" textLength="23.66" lengthAdjust="spacingAndGlyphs" >0.0013</text>
<circle cx="222.00" cy="237.30" r="1.65" fill="#000"/>
<circle cx="218.40" cy="249.60" r="1.65" fill="#000"/>
<circle cx="222.30" cy="247.50" r="1.65" fill="#000"/>
<circle cx="226.40" cy="249.60" r="1.65" fill="#000"/>
<circle cx="222.30" cy="255.80" r="1.65" fill="#000"/>
<circle cx="222.30" cy="261.10" r="1.65" fill="#000"/>
<circle cx="222.30" cy="267.20" r="1.65" fill="#000"/>
<circle cx="222.30" cy="276.00" r="1.65" fill="#000"/>
<line x1="222.30" y1="252.30" x2="222.30" y2="259.00" stroke="#000" stroke-width="0.8" />
<line x1="219.80" y1="252.30" x2="224.80" y2="252.30" stroke="#000" stroke-width="0.8" />
<line x1="219.80" y1="259.00" x2="224.80" y2="259.00" stroke="#000" stroke-width="0.8" />
<line x1="216.70" y1="255.80" x2="227.80" y2="255.80" stroke="#000" stroke-width="1.1" />
<rect x="237.20" y="267.50" width="3.80" height="3.80" fill="#9e00e6"/>
<rect x="234.80" y="269.20" width="3.80" height="3.80" fill="#9e00e6"/>
<rect x="237.20" y="272.20" width="3.80" height="3.80" fill="#9e00e6"/>
<rect x="232.20" y="279.00" width="3.80" height="3.80" fill="#9e00e6"/>
<rect x="234.80" y="279.80" width="3.80" height="3.80" fill="#9e00e6"/>
<rect x="240.10" y="279.20" width="3.80" height="3.80" fill="#9e00e6"/>
<rect x="237.20" y="282.10" width="3.80" height="3.80" fill="#9e00e6"/>
<rect x="236.00" y="290.90" width="3.80" height="3.80" fill="#9e00e6"/>
<line x1="238.30" y1="276.40" x2="238.30" y2="282.00" stroke="#9e00e6" stroke-width="0.8" />
<line x1="235.80" y1="276.40" x2="240.80" y2="276.40" stroke="#9e00e6" stroke-width="0.8" />
<line x1="235.80" y1="282.00" x2="240.80" y2="282.00" stroke="#9e00e6" stroke-width="0.8" />
<line x1="233.00" y1="279.10" x2="243.80" y2="279.10" stroke="#000" stroke-width="1.1" />
<circle cx="260.70" cy="264.10" r="1.75" fill="#fff" stroke="#000" stroke-width="1.1"/>
<circle cx="267.90" cy="261.60" r="1.75" fill="#fff" stroke="#000" stroke-width="1.1"/>
<circle cx="267.90" cy="265.70" r="1.75" fill="#fff" stroke="#000" stroke-width="1.1"/>
<circle cx="260.70" cy="277.00" r="1.75" fill="#fff" stroke="#000" stroke-width="1.1"/>
<circle cx="267.90" cy="277.00" r="1.75" fill="#fff" stroke="#000" stroke-width="1.1"/>
<circle cx="264.40" cy="285.00" r="1.75" fill="#fff" stroke="#000" stroke-width="1.1"/>
<circle cx="260.70" cy="294.30" r="1.75" fill="#fff" stroke="#000" stroke-width="1.1"/>
<circle cx="267.90" cy="291.60" r="1.75" fill="#fff" stroke="#000" stroke-width="1.1"/>
<line x1="264.30" y1="272.60" x2="264.30" y2="281.40" stroke="#000" stroke-width="0.8" />
<line x1="261.80" y1="272.60" x2="266.80" y2="272.60" stroke="#000" stroke-width="0.8" />
<line x1="261.80" y1="281.40" x2="266.80" y2="281.40" stroke="#000" stroke-width="0.8" />
<line x1="258.80" y1="277.00" x2="269.80" y2="277.00" stroke="#000" stroke-width="1.1" />
<rect x="278.25" y="265.25" width="3.50" height="3.50" fill="#fff" stroke="#9e00e6" stroke-width="1.1"/>
<rect x="274.65" y="287.25" width="3.50" height="3.50" fill="#fff" stroke="#9e00e6" stroke-width="1.1"/>
<rect x="282.25" y="289.85" width="3.50" height="3.50" fill="#fff" stroke="#9e00e6" stroke-width="1.1"/>
<rect x="278.25" y="291.65" width="3.50" height="3.50" fill="#fff" stroke="#9e00e6" stroke-width="1.1"/>
<rect x="274.65" y="298.95" width="3.50" height="3.50" fill="#fff" stroke="#9e00e6" stroke-width="1.1"/>
<rect x="278.25" y="296.95" width="3.50" height="3.50" fill="#fff" stroke="#9e00e6" stroke-width="1.1"/>
<rect x="282.25" y="297.95" width="3.50" height="3.50" fill="#fff" stroke="#9e00e6" stroke-width="1.1"/>
<line x1="280.30" y1="287.20" x2="280.30" y2="296.00" stroke="#9e00e6" stroke-width="0.8" />
<line x1="277.80" y1="287.20" x2="282.80" y2="287.20" stroke="#9e00e6" stroke-width="0.8" />
<line x1="277.80" y1="296.00" x2="282.80" y2="296.00" stroke="#9e00e6" stroke-width="0.8" />
<line x1="275.50" y1="292.40" x2="285.50" y2="292.40" stroke="#000" stroke-width="1.1" />
<text x="346.33" y="195.80" transform="rotate(0.03 346.33 195.80)" font-size="10.2" fill="#1e1e1e" textLength="63.50" lengthAdjust="spacingAndGlyphs" >Inguinal WAT</text>
<text transform="translate(315.90,305.18) rotate(-89.97)" x="0" y="0" font-size="10.4" fill="#1e1e1e" textLength="80.17" lengthAdjust="spacingAndGlyphs">Inguinal WAT (g)</text>
<line x1="335.80" y1="221.65" x2="335.80" y2="308.90" stroke="#686868" stroke-width="1" />
<line x1="331.80" y1="221.65" x2="335.80" y2="221.65" stroke="#686868" stroke-width="1" />
<text x="323.76" y="224.07" transform="rotate(0.03 323.76 224.07)" font-size="9.0" fill="#1e1e1e" textLength="5.01" lengthAdjust="spacingAndGlyphs">5</text>
<line x1="331.80" y1="239.10" x2="335.80" y2="239.10" stroke="#686868" stroke-width="1" />
<text x="323.67" y="241.52" transform="rotate(0.03 323.67 241.52)" font-size="9.0" fill="#1e1e1e" textLength="5.01" lengthAdjust="spacingAndGlyphs">4</text>
<line x1="331.80" y1="256.55" x2="335.80" y2="256.55" stroke="#686868" stroke-width="1" />
<text x="323.76" y="258.97" transform="rotate(0.03 323.76 258.97)" font-size="9.0" fill="#1e1e1e" textLength="5.01" lengthAdjust="spacingAndGlyphs">3</text>
<line x1="331.80" y1="274.00" x2="335.80" y2="274.00" stroke="#686868" stroke-width="1" />
<text x="323.85" y="276.42" transform="rotate(0.03 323.85 276.42)" font-size="9.0" fill="#1e1e1e" textLength="5.01" lengthAdjust="spacingAndGlyphs">2</text>
<line x1="331.80" y1="291.45" x2="335.80" y2="291.45" stroke="#686868" stroke-width="1" />
<text x="323.81" y="293.87" transform="rotate(0.03 323.81 293.87)" font-size="9.0" fill="#1e1e1e" textLength="5.01" lengthAdjust="spacingAndGlyphs">1</text>
<line x1="331.80" y1="308.90" x2="335.80" y2="308.90" stroke="#686868" stroke-width="1" />
<text x="323.72" y="311.32" transform="rotate(0.03 323.72 311.32)" font-size="9.0" fill="#1e1e1e" textLength="5.01" lengthAdjust="spacingAndGlyphs">0</text>
<line x1="331.80" y1="309.10" x2="424.60" y2="309.10" stroke="#686868" stroke-width="1" />
<line x1="356.80" y1="309.10" x2="356.80" y2="313.10" stroke="#686868" stroke-width="1" />
<line x1="403.30" y1="309.10" x2="403.30" y2="313.10" stroke="#686868" stroke-width="1" />
<text x="340.17" y="327.70" transform="rotate(0.03 340.17 327.70)" font-size="10.5" font-style="italic" fill="#1e1e1e" textLength="20.00" lengthAdjust="spacingAndGlyphs" >Gipr</text>
<text x="360.75" y="323.10" transform="rotate(0.03 360.75 323.10)" font-size="7.2" fill="#333" textLength="12.40" lengthAdjust="spacingAndGlyphs" >fl/fl</text>
<text x="381.87" y="327.70" transform="rotate(0.03 381.87 327.70)" font-size="10.5" font-style="italic" fill="#1e1e1e" textLength="19.90" lengthAdjust="spacingAndGlyphs" >Gipr</text>
<text x="402.18" y="323.10" transform="rotate(0.03 402.18 323.10)" font-size="7.2" fill="#333" textLength="22.78" lengthAdjust="spacingAndGlyphs" >Syn−/−</text>
<line x1="347.50" y1="218.30" x2="412.40" y2="218.30" stroke="#7a7a7a" stroke-width="1" />
<line x1="412.40" y1="218.30" x2="412.40" y2="265.60" stroke="#7a7a7a" stroke-width="1" />
<line x1="347.50" y1="218.30" x2="347.50" y2="240.00" stroke="#7a7a7a" stroke-width="1" />
<line x1="347.50" y1="233.60" x2="394.90" y2="233.60" stroke="#7a7a7a" stroke-width="1" />
<line x1="394.90" y1="233.60" x2="394.90" y2="264.70" stroke="#7a7a7a" stroke-width="1" />
<line x1="347.50" y1="247.60" x2="365.10" y2="247.60" stroke="#7a7a7a" stroke-width="1" />
<line x1="347.50" y1="247.60" x2="347.50" y2="252.40" stroke="#7a7a7a" stroke-width="1" />
<line x1="365.10" y1="247.60" x2="365.10" y2="265.30" stroke="#7a7a7a" stroke-width="1" />
<text x="361.81" y="215.20" transform="rotate(0.03 361.81 215.20)" font-size="6.9" font-style="italic" fill="#1e1e1e" textLength="4.26" lengthAdjust="spacingAndGlyphs" >P</text>
<text x="368.25" y="214.30" transform="rotate(0.03 368.25 214.30)" font-size="5.175000000000001" fill="#1e1e1e" textLength="3.29" lengthAdjust="spacingAndGlyphs" >=</text>
<text x="373.23" y="215.20" transform="rotate(0.03 373.23 215.20)" font-size="6.9" fill="#1e1e1e" textLength="25.07" lengthAdjust="spacingAndGlyphs" >0.0002</text>
<text x="353.21" y="229.70" transform="rotate(0.03 353.21 229.70)" font-size="6.9" font-style="italic" fill="#1e1e1e" textLength="4.21" lengthAdjust="spacingAndGlyphs" >P</text>
<text x="359.58" y="228.80" transform="rotate(0.03 359.58 228.80)" font-size="5.175000000000001" fill="#1e1e1e" textLength="3.25" lengthAdjust="spacingAndGlyphs" >=</text>
<text x="364.51" y="229.70" transform="rotate(0.03 364.51 229.70)" font-size="6.9" fill="#1e1e1e" textLength="24.70" lengthAdjust="spacingAndGlyphs" >0.0066</text>
<text x="339.62" y="244.80" transform="rotate(0.03 339.62 244.80)" font-size="6.9" font-style="italic" fill="#1e1e1e" textLength="4.00" lengthAdjust="spacingAndGlyphs" >P</text>
<text x="345.67" y="243.90" transform="rotate(0.03 345.67 243.90)" font-size="5.175000000000001" fill="#1e1e1e" textLength="3.08" lengthAdjust="spacingAndGlyphs" >=</text>
<text x="350.34" y="244.80" transform="rotate(0.03 350.34 244.80)" font-size="6.9" fill="#1e1e1e" textLength="23.49" lengthAdjust="spacingAndGlyphs" >0.0351</text>
<circle cx="347.90" cy="258.10" r="1.70" fill="#000"/>
<circle cx="347.90" cy="264.80" r="1.70" fill="#000"/>
<circle cx="351.90" cy="268.10" r="1.70" fill="#000"/>
<circle cx="343.90" cy="270.60" r="1.70" fill="#000"/>
<circle cx="351.90" cy="274.20" r="1.70" fill="#000"/>
<circle cx="347.90" cy="280.60" r="1.70" fill="#000"/>
<circle cx="347.90" cy="285.20" r="1.70" fill="#000"/>
<circle cx="347.90" cy="290.00" r="1.70" fill="#000"/>
<line x1="347.90" y1="271.00" x2="347.90" y2="277.40" stroke="#000" stroke-width="0.8" />
<line x1="345.40" y1="271.00" x2="350.40" y2="271.00" stroke="#000" stroke-width="0.8" />
<line x1="345.40" y1="277.40" x2="350.40" y2="277.40" stroke="#000" stroke-width="0.8" />
<line x1="342.30" y1="274.20" x2="353.50" y2="274.20" stroke="#000" stroke-width="1.1" />
<rect x="359.15" y="277.05" width="3.90" height="3.90" fill="#9e00e6"/>
<rect x="359.15" y="280.35" width="3.90" height="3.90" fill="#9e00e6"/>
<rect x="367.75" y="277.85" width="3.90" height="3.90" fill="#9e00e6"/>
<rect x="367.75" y="281.05" width="3.90" height="3.90" fill="#9e00e6"/>
<rect x="359.15" y="289.95" width="3.90" height="3.90" fill="#9e00e6"/>
<rect x="367.75" y="291.55" width="3.90" height="3.90" fill="#9e00e6"/>
<rect x="367.75" y="285.55" width="3.90" height="3.90" fill="#9e00e6"/>
<rect x="363.35" y="298.85" width="3.90" height="3.90" fill="#9e00e6"/>
<line x1="365.30" y1="284.50" x2="365.30" y2="291.00" stroke="#9e00e6" stroke-width="0.8" />
<line x1="362.80" y1="284.50" x2="367.80" y2="284.50" stroke="#9e00e6" stroke-width="0.8" />
<line x1="362.80" y1="291.00" x2="367.80" y2="291.00" stroke="#9e00e6" stroke-width="0.8" />
<line x1="359.20" y1="287.90" x2="371.80" y2="287.90" stroke="#000" stroke-width="1.1" />
<circle cx="390.80" cy="280.30" r="1.75" fill="#fff" stroke="#000" stroke-width="1.1"/>
<circle cx="399.00" cy="277.40" r="1.75" fill="#fff" stroke="#000" stroke-width="1.1"/>
<circle cx="399.00" cy="282.10" r="1.75" fill="#fff" stroke="#000" stroke-width="1.1"/>
<circle cx="390.80" cy="292.80" r="1.75" fill="#fff" stroke="#000" stroke-width="1.1"/>
<circle cx="399.00" cy="293.80" r="1.75" fill="#fff" stroke="#000" stroke-width="1.1"/>
<circle cx="394.90" cy="297.70" r="1.75" fill="#fff" stroke="#000" stroke-width="1.1"/>
<circle cx="390.80" cy="302.80" r="1.75" fill="#fff" stroke="#000" stroke-width="1.1"/>
<circle cx="399.00" cy="302.80" r="1.75" fill="#fff" stroke="#000" stroke-width="1.1"/>
<line x1="394.90" y1="287.60" x2="394.90" y2="295.00" stroke="#000" stroke-width="0.8" />
<line x1="392.40" y1="287.60" x2="397.40" y2="287.60" stroke="#000" stroke-width="0.8" />
<line x1="392.40" y1="295.00" x2="397.40" y2="295.00" stroke="#000" stroke-width="0.8" />
<line x1="389.00" y1="291.50" x2="401.00" y2="291.50" stroke="#000" stroke-width="1.1" />
<rect x="410.85" y="278.25" width="3.50" height="3.50" fill="#fff" stroke="#9e00e6" stroke-width="1.1"/>
<rect x="405.95" y="297.45" width="3.50" height="3.50" fill="#fff" stroke="#9e00e6" stroke-width="1.1"/>
<rect x="410.85" y="296.45" width="3.50" height="3.50" fill="#fff" stroke="#9e00e6" stroke-width="1.1"/>
<rect x="415.15" y="297.95" width="3.50" height="3.50" fill="#fff" stroke="#9e00e6" stroke-width="1.1"/>
<rect x="405.95" y="301.05" width="3.50" height="3.50" fill="#fff" stroke="#9e00e6" stroke-width="1.1"/>
<rect x="410.85" y="301.05" width="3.50" height="3.50" fill="#fff" stroke="#9e00e6" stroke-width="1.1"/>
<rect x="415.15" y="301.05" width="3.50" height="3.50" fill="#fff" stroke="#9e00e6" stroke-width="1.1"/>
<line x1="412.60" y1="295.10" x2="412.60" y2="301.00" stroke="#9e00e6" stroke-width="0.8" />
<line x1="410.10" y1="295.10" x2="415.10" y2="295.10" stroke="#9e00e6" stroke-width="0.8" />
<line x1="410.10" y1="301.00" x2="415.10" y2="301.00" stroke="#9e00e6" stroke-width="0.8" />
<line x1="406.00" y1="298.70" x2="418.50" y2="298.70" stroke="#000" stroke-width="1.1" />
<text x="471.54" y="195.50" transform="rotate(0.03 471.54 195.50)" font-size="10.2" fill="#1e1e1e" textLength="78.07" lengthAdjust="spacingAndGlyphs" >Epididymal WAT</text>
<text transform="translate(446.40,311.85) rotate(-89.97)" x="0" y="0" font-size="10.4" fill="#1e1e1e" textLength="93.31" lengthAdjust="spacingAndGlyphs">Epididymal WAT (g)</text>
<line x1="466.60" y1="222.10" x2="466.60" y2="309.10" stroke="#686868" stroke-width="1" />
<line x1="462.60" y1="222.10" x2="466.60" y2="222.10" stroke="#686868" stroke-width="1" />
<text x="454.37" y="224.52" transform="rotate(0.03 454.37 224.52)" font-size="9.0" fill="#1e1e1e" textLength="5.01" lengthAdjust="spacingAndGlyphs">5</text>
<line x1="462.60" y1="239.50" x2="466.60" y2="239.50" stroke="#686868" stroke-width="1" />
<text x="454.27" y="241.92" transform="rotate(0.03 454.27 241.92)" font-size="9.0" fill="#1e1e1e" textLength="5.01" lengthAdjust="spacingAndGlyphs">4</text>
<line x1="462.60" y1="256.90" x2="466.60" y2="256.90" stroke="#686868" stroke-width="1" />
<text x="454.37" y="259.32" transform="rotate(0.03 454.37 259.32)" font-size="9.0" fill="#1e1e1e" textLength="5.01" lengthAdjust="spacingAndGlyphs">3</text>
<line x1="462.60" y1="274.30" x2="466.60" y2="274.30" stroke="#686868" stroke-width="1" />
<text x="454.45" y="276.72" transform="rotate(0.03 454.45 276.72)" font-size="9.0" fill="#1e1e1e" textLength="5.01" lengthAdjust="spacingAndGlyphs">2</text>
<line x1="462.60" y1="291.70" x2="466.60" y2="291.70" stroke="#686868" stroke-width="1" />
<text x="454.41" y="294.12" transform="rotate(0.03 454.41 294.12)" font-size="9.0" fill="#1e1e1e" textLength="5.01" lengthAdjust="spacingAndGlyphs">1</text>
<line x1="462.60" y1="309.10" x2="466.60" y2="309.10" stroke="#686868" stroke-width="1" />
<text x="454.32" y="311.52" transform="rotate(0.03 454.32 311.52)" font-size="9.0" fill="#1e1e1e" textLength="5.01" lengthAdjust="spacingAndGlyphs">0</text>
<line x1="463.00" y1="309.00" x2="555.30" y2="309.00" stroke="#686868" stroke-width="1" />
<line x1="487.30" y1="309.00" x2="487.30" y2="313.00" stroke="#686868" stroke-width="1" />
<line x1="534.60" y1="309.00" x2="534.60" y2="313.00" stroke="#686868" stroke-width="1" />
<text x="470.97" y="327.80" transform="rotate(0.03 470.97 327.80)" font-size="10.5" font-style="italic" fill="#1e1e1e" textLength="19.90" lengthAdjust="spacingAndGlyphs" >Gipr</text>
<text x="491.45" y="323.20" transform="rotate(0.03 491.45 323.20)" font-size="7.2" fill="#333" textLength="12.62" lengthAdjust="spacingAndGlyphs" >fl/fl</text>
<text x="512.67" y="327.80" transform="rotate(0.03 512.67 327.80)" font-size="10.5" font-style="italic" fill="#1e1e1e" textLength="19.90" lengthAdjust="spacingAndGlyphs" >Gipr</text>
<text x="532.97" y="323.20" transform="rotate(0.03 532.97 323.20)" font-size="7.2" fill="#333" textLength="22.98" lengthAdjust="spacingAndGlyphs" >Syn−/−</text>
<line x1="478.60" y1="218.30" x2="542.30" y2="218.30" stroke="#7a7a7a" stroke-width="1" />
<line x1="542.30" y1="218.30" x2="542.30" y2="270.80" stroke="#7a7a7a" stroke-width="1" />
<line x1="478.60" y1="218.30" x2="478.60" y2="227.60" stroke="#7a7a7a" stroke-width="1" />
<line x1="478.60" y1="237.20" x2="496.50" y2="237.20" stroke="#7a7a7a" stroke-width="1" />
<line x1="478.60" y1="237.20" x2="478.60" y2="244.30" stroke="#7a7a7a" stroke-width="1" />
<line x1="496.50" y1="237.20" x2="496.50" y2="265.20" stroke="#7a7a7a" stroke-width="1" />
<text x="492.01" y="214.60" transform="rotate(0.03 492.01 214.60)" font-size="6.9" font-style="italic" fill="#1e1e1e" textLength="4.23" lengthAdjust="spacingAndGlyphs" >P</text>
<text x="498.42" y="213.70" transform="rotate(0.03 498.42 213.70)" font-size="5.175000000000001" fill="#1e1e1e" textLength="3.27" lengthAdjust="spacingAndGlyphs" >=</text>
<text x="503.37" y="214.60" transform="rotate(0.03 503.37 214.60)" font-size="6.9" fill="#1e1e1e" textLength="24.84" lengthAdjust="spacingAndGlyphs" >0.0005</text>
<text x="470.42" y="234.10" transform="rotate(0.03 470.42 234.10)" font-size="6.9" font-style="italic" fill="#1e1e1e" textLength="4.02" lengthAdjust="spacingAndGlyphs" >P</text>
<text x="476.50" y="233.20" transform="rotate(0.03 476.50 233.20)" font-size="5.175000000000001" fill="#1e1e1e" textLength="3.10" lengthAdjust="spacingAndGlyphs" >=</text>
<text x="481.21" y="234.10" transform="rotate(0.03 481.21 234.10)" font-size="6.9" fill="#1e1e1e" textLength="23.55" lengthAdjust="spacingAndGlyphs" >0.0190</text>
<circle cx="478.70" cy="250.20" r="1.70" fill="#000"/>
<circle cx="478.70" cy="259.80" r="1.70" fill="#000"/>
<circle cx="474.70" cy="265.60" r="1.70" fill="#000"/>
<circle cx="482.70" cy="265.60" r="1.70" fill="#000"/>
<circle cx="482.70" cy="269.50" r="1.70" fill="#000"/>
<circle cx="474.70" cy="274.80" r="1.70" fill="#000"/>
<circle cx="482.70" cy="278.10" r="1.70" fill="#000"/>
<circle cx="478.70" cy="281.80" r="1.70" fill="#000"/>
<line x1="478.70" y1="264.40" x2="478.70" y2="271.60" stroke="#000" stroke-width="0.8" />
<line x1="476.20" y1="264.40" x2="481.20" y2="264.40" stroke="#000" stroke-width="0.8" />
<line x1="476.20" y1="271.60" x2="481.20" y2="271.60" stroke="#000" stroke-width="0.8" />
<line x1="473.00" y1="267.60" x2="484.40" y2="267.60" stroke="#000" stroke-width="1.1" />
<rect x="494.05" y="271.25" width="3.90" height="3.90" fill="#9e00e6"/>
<rect x="489.65" y="277.75" width="3.90" height="3.90" fill="#9e00e6"/>
<rect x="494.05" y="278.55" width="3.90" height="3.90" fill="#9e00e6"/>
<rect x="498.55" y="277.25" width="3.90" height="3.90" fill="#9e00e6"/>
<rect x="492.85" y="281.75" width="3.90" height="3.90" fill="#9e00e6"/>
<rect x="492.85" y="285.75" width="3.90" height="3.90" fill="#9e00e6"/>
<rect x="495.35" y="286.95" width="3.90" height="3.90" fill="#9e00e6"/>
<rect x="492.85" y="289.85" width="3.90" height="3.90" fill="#9e00e6"/>
<line x1="496.00" y1="280.00" x2="496.00" y2="286.00" stroke="#9e00e6" stroke-width="0.8" />
<line x1="493.50" y1="280.00" x2="498.50" y2="280.00" stroke="#9e00e6" stroke-width="0.8" />
<line x1="493.50" y1="286.00" x2="498.50" y2="286.00" stroke="#9e00e6" stroke-width="0.8" />
<line x1="490.00" y1="282.90" x2="502.40" y2="282.90" stroke="#000" stroke-width="1.1" />
<circle cx="525.30" cy="258.70" r="1.75" fill="#fff" stroke="#000" stroke-width="1.1"/>
<circle cx="525.30" cy="267.30" r="1.75" fill="#fff" stroke="#000" stroke-width="1.1"/>
<circle cx="525.30" cy="273.20" r="1.75" fill="#fff" stroke="#000" stroke-width="1.1"/>
<circle cx="521.30" cy="282.40" r="1.75" fill="#fff" stroke="#000" stroke-width="1.1"/>
<circle cx="525.30" cy="281.30" r="1.75" fill="#fff" stroke="#000" stroke-width="1.1"/>
<circle cx="529.40" cy="282.90" r="1.75" fill="#fff" stroke="#000" stroke-width="1.1"/>
<circle cx="523.70" cy="293.40" r="1.75" fill="#fff" stroke="#000" stroke-width="1.1"/>
<circle cx="527.70" cy="291.80" r="1.75" fill="#fff" stroke="#000" stroke-width="1.1"/>
<line x1="525.30" y1="274.80" x2="525.30" y2="282.00" stroke="#000" stroke-width="0.8" />
<line x1="522.80" y1="274.80" x2="527.80" y2="274.80" stroke="#000" stroke-width="0.8" />
<line x1="522.80" y1="282.00" x2="527.80" y2="282.00" stroke="#000" stroke-width="0.8" />
<line x1="519.70" y1="278.50" x2="531.50" y2="278.50" stroke="#000" stroke-width="1.1" />
<rect x="537.25" y="277.95" width="3.50" height="3.50" fill="#fff" stroke="#9e00e6" stroke-width="1.1"/>
<rect x="541.65" y="280.35" width="3.50" height="3.50" fill="#fff" stroke="#9e00e6" stroke-width="1.1"/>
<rect x="537.25" y="285.25" width="3.50" height="3.50" fill="#fff" stroke="#9e00e6" stroke-width="1.1"/>
<rect x="541.65" y="287.65" width="3.50" height="3.50" fill="#fff" stroke="#9e00e6" stroke-width="1.1"/>
<rect x="537.25" y="295.65" width="3.50" height="3.50" fill="#fff" stroke="#9e00e6" stroke-width="1.1"/>
<rect x="541.65" y="294.55" width="3.50" height="3.50" fill="#fff" stroke="#9e00e6" stroke-width="1.1"/>
<rect x="545.85" y="295.65" width="3.50" height="3.50" fill="#fff" stroke="#9e00e6" stroke-width="1.1"/>
<line x1="542.50" y1="287.00" x2="542.50" y2="293.50" stroke="#9e00e6" stroke-width="0.8" />
<line x1="540.00" y1="287.00" x2="545.00" y2="287.00" stroke="#9e00e6" stroke-width="0.8" />
<line x1="540.00" y1="293.50" x2="545.00" y2="293.50" stroke="#9e00e6" stroke-width="0.8" />
<line x1="537.40" y1="290.20" x2="548.70" y2="290.20" stroke="#000" stroke-width="1.1" />
<text x="628.13" y="194.40" transform="rotate(0.03 628.13 194.40)" font-size="10.2" fill="#1e1e1e" textLength="23.56" lengthAdjust="spacingAndGlyphs" >Liver</text>
<text transform="translate(576.20,303.46) rotate(-89.97)" x="0" y="0" font-size="10.4" fill="#1e1e1e" textLength="73.82" lengthAdjust="spacingAndGlyphs">Liver weight (g)</text>
<line x1="596.50" y1="223.55" x2="596.50" y2="308.90" stroke="#686868" stroke-width="1" />
<line x1="592.50" y1="223.55" x2="596.50" y2="223.55" stroke="#686868" stroke-width="1" />
<text x="584.37" y="225.97" transform="rotate(0.03 584.37 225.97)" font-size="9.0" fill="#1e1e1e" textLength="5.01" lengthAdjust="spacingAndGlyphs">5</text>
<line x1="592.50" y1="240.62" x2="596.50" y2="240.62" stroke="#686868" stroke-width="1" />
<text x="584.28" y="243.04" transform="rotate(0.03 584.28 243.04)" font-size="9.0" fill="#1e1e1e" textLength="5.01" lengthAdjust="spacingAndGlyphs">4</text>
<line x1="592.50" y1="257.69" x2="596.50" y2="257.69" stroke="#686868" stroke-width="1" />
<text x="584.37" y="260.11" transform="rotate(0.03 584.37 260.11)" font-size="9.0" fill="#1e1e1e" textLength="5.01" lengthAdjust="spacingAndGlyphs">3</text>
<line x1="592.50" y1="274.76" x2="596.50" y2="274.76" stroke="#686868" stroke-width="1" />
<text x="584.45" y="277.18" transform="rotate(0.03 584.45 277.18)" font-size="9.0" fill="#1e1e1e" textLength="5.01" lengthAdjust="spacingAndGlyphs">2</text>
<line x1="592.50" y1="291.83" x2="596.50" y2="291.83" stroke="#686868" stroke-width="1" />
<text x="584.41" y="294.25" transform="rotate(0.03 584.41 294.25)" font-size="9.0" fill="#1e1e1e" textLength="5.01" lengthAdjust="spacingAndGlyphs">1</text>
<line x1="592.50" y1="308.90" x2="596.50" y2="308.90" stroke="#686868" stroke-width="1" />
<text x="584.32" y="311.32" transform="rotate(0.03 584.32 311.32)" font-size="9.0" fill="#1e1e1e" textLength="5.01" lengthAdjust="spacingAndGlyphs">0</text>
<line x1="592.30" y1="309.20" x2="686.00" y2="309.20" stroke="#686868" stroke-width="1" />
<line x1="616.70" y1="309.20" x2="616.70" y2="313.20" stroke="#686868" stroke-width="1" />
<line x1="663.80" y1="309.20" x2="663.80" y2="313.20" stroke="#686868" stroke-width="1" />
<text x="600.57" y="327.70" transform="rotate(0.03 600.57 327.70)" font-size="10.5" font-style="italic" fill="#1e1e1e" textLength="19.90" lengthAdjust="spacingAndGlyphs" >Gipr</text>
<text x="621.06" y="323.10" transform="rotate(0.03 621.06 323.10)" font-size="7.2" fill="#333" textLength="11.98" lengthAdjust="spacingAndGlyphs" >fl/fl</text>
<text x="642.17" y="327.70" transform="rotate(0.03 642.17 327.70)" font-size="10.5" font-style="italic" fill="#1e1e1e" textLength="19.90" lengthAdjust="spacingAndGlyphs" >Gipr</text>
<text x="662.47" y="323.10" transform="rotate(0.03 662.47 323.10)" font-size="7.2" fill="#333" textLength="23.39" lengthAdjust="spacingAndGlyphs" >Syn−/−</text>
<line x1="607.60" y1="210.40" x2="672.50" y2="210.40" stroke="#7a7a7a" stroke-width="1" />
<line x1="672.50" y1="210.40" x2="672.50" y2="275.50" stroke="#7a7a7a" stroke-width="1" />
<line x1="607.60" y1="210.40" x2="607.60" y2="215.20" stroke="#7a7a7a" stroke-width="1" />
<line x1="607.60" y1="226.60" x2="625.40" y2="226.60" stroke="#7a7a7a" stroke-width="1" />
<line x1="607.60" y1="226.60" x2="607.60" y2="231.90" stroke="#7a7a7a" stroke-width="1" />
<line x1="625.40" y1="226.60" x2="625.40" y2="278.00" stroke="#7a7a7a" stroke-width="1" />
<text x="623.22" y="206.70" transform="rotate(0.03 623.22 206.70)" font-size="6.9" font-style="italic" fill="#1e1e1e" textLength="4.02" lengthAdjust="spacingAndGlyphs" >P</text>
<text x="629.30" y="205.80" transform="rotate(0.03 629.30 205.80)" font-size="5.175000000000001" fill="#1e1e1e" textLength="3.10" lengthAdjust="spacingAndGlyphs" >=</text>
<text x="634.01" y="206.70" transform="rotate(0.03 634.01 206.70)" font-size="6.9" fill="#1e1e1e" textLength="23.63" lengthAdjust="spacingAndGlyphs" >0.0041</text>
<text x="599.53" y="223.60" transform="rotate(0.03 599.53 223.60)" font-size="6.9" font-style="italic" fill="#1e1e1e" textLength="3.85" lengthAdjust="spacingAndGlyphs" >P</text>
<text x="605.36" y="222.70" transform="rotate(0.03 605.36 222.70)" font-size="5.175000000000001" fill="#1e1e1e" textLength="2.97" lengthAdjust="spacingAndGlyphs" >=</text>
<text x="609.86" y="223.60" transform="rotate(0.03 609.86 223.60)" font-size="6.9" fill="#1e1e1e" textLength="22.64" lengthAdjust="spacingAndGlyphs" >0.0118</text>
<circle cx="608.00" cy="240.70" r="1.70" fill="#000"/>
<circle cx="608.00" cy="262.00" r="1.70" fill="#000"/>
<circle cx="608.00" cy="269.30" r="1.70" fill="#000"/>
<circle cx="603.60" cy="276.50" r="1.70" fill="#000"/>
<circle cx="612.10" cy="279.20" r="1.70" fill="#000"/>
<circle cx="608.00" cy="282.60" r="1.70" fill="#000"/>
<circle cx="603.60" cy="288.90" r="1.70" fill="#000"/>
<circle cx="612.10" cy="286.80" r="1.70" fill="#000"/>
<line x1="608.00" y1="267.40" x2="608.00" y2="279.20" stroke="#000" stroke-width="0.8" />
<line x1="605.50" y1="267.40" x2="610.50" y2="267.40" stroke="#000" stroke-width="0.8" />
<line x1="605.50" y1="279.20" x2="610.50" y2="279.20" stroke="#000" stroke-width="0.8" />
<line x1="602.20" y1="273.50" x2="614.00" y2="273.50" stroke="#000" stroke-width="1.1" />
<rect x="619.50" y="283.70" width="3.80" height="3.80" fill="#9e00e6"/>
<rect x="622.90" y="285.00" width="3.80" height="3.80" fill="#9e00e6"/>
<rect x="627.50" y="285.80" width="3.80" height="3.80" fill="#9e00e6"/>
<rect x="621.80" y="288.60" width="3.80" height="3.80" fill="#9e00e6"/>
<rect x="626.40" y="289.70" width="3.80" height="3.80" fill="#9e00e6"/>
<rect x="621.80" y="292.20" width="3.80" height="3.80" fill="#9e00e6"/>
<rect x="625.40" y="291.20" width="3.80" height="3.80" fill="#9e00e6"/>
<line x1="625.40" y1="287.00" x2="625.40" y2="291.50" stroke="#9e00e6" stroke-width="0.8" />
<line x1="622.90" y1="287.00" x2="627.90" y2="287.00" stroke="#9e00e6" stroke-width="0.8" />
<line x1="622.90" y1="291.50" x2="627.90" y2="291.50" stroke="#9e00e6" stroke-width="0.8" />
<line x1="619.60" y1="289.30" x2="631.40" y2="289.30" stroke="#000" stroke-width="1.1" />
<circle cx="654.90" cy="269.40" r="1.75" fill="#fff" stroke="#000" stroke-width="1.1"/>
<circle cx="654.90" cy="272.70" r="1.75" fill="#fff" stroke="#000" stroke-width="1.1"/>
<circle cx="655.00" cy="284.90" r="1.75" fill="#fff" stroke="#000" stroke-width="1.1"/>
<circle cx="650.40" cy="290.50" r="1.75" fill="#fff" stroke="#000" stroke-width="1.1"/>
<circle cx="653.80" cy="289.50" r="1.75" fill="#fff" stroke="#000" stroke-width="1.1"/>
<circle cx="656.60" cy="291.00" r="1.75" fill="#fff" stroke="#000" stroke-width="1.1"/>
<circle cx="659.30" cy="289.30" r="1.75" fill="#fff" stroke="#000" stroke-width="1.1"/>
<circle cx="653.80" cy="294.40" r="1.75" fill="#fff" stroke="#000" stroke-width="1.1"/>
<line x1="655.00" y1="281.50" x2="655.00" y2="289.00" stroke="#000" stroke-width="0.8" />
<line x1="652.50" y1="281.50" x2="657.50" y2="281.50" stroke="#000" stroke-width="0.8" />
<line x1="652.50" y1="289.00" x2="657.50" y2="289.00" stroke="#000" stroke-width="0.8" />
<line x1="649.40" y1="285.40" x2="660.70" y2="285.40" stroke="#000" stroke-width="1.1" />
<rect x="670.75" y="284.15" width="3.50" height="3.50" fill="#fff" stroke="#9e00e6" stroke-width="1.1"/>
<rect x="670.75" y="287.25" width="3.50" height="3.50" fill="#fff" stroke="#9e00e6" stroke-width="1.1"/>
<rect x="666.65" y="292.65" width="3.50" height="3.50" fill="#fff" stroke="#9e00e6" stroke-width="1.1"/>
<rect x="670.75" y="291.85" width="3.50" height="3.50" fill="#fff" stroke="#9e00e6" stroke-width="1.1"/>
<rect x="674.85" y="292.85" width="3.50" height="3.50" fill="#fff" stroke="#9e00e6" stroke-width="1.1"/>
<rect x="674.85" y="289.75" width="3.50" height="3.50" fill="#fff" stroke="#9e00e6" stroke-width="1.1"/>
<line x1="672.50" y1="289.50" x2="672.50" y2="294.50" stroke="#9e00e6" stroke-width="0.8" />
<line x1="670.00" y1="289.50" x2="675.00" y2="289.50" stroke="#9e00e6" stroke-width="0.8" />
<line x1="670.00" y1="294.50" x2="675.00" y2="294.50" stroke="#9e00e6" stroke-width="0.8" />
<line x1="666.80" y1="292.10" x2="678.60" y2="292.10" stroke="#000" stroke-width="1.1" />
</svg>
</body></html>
